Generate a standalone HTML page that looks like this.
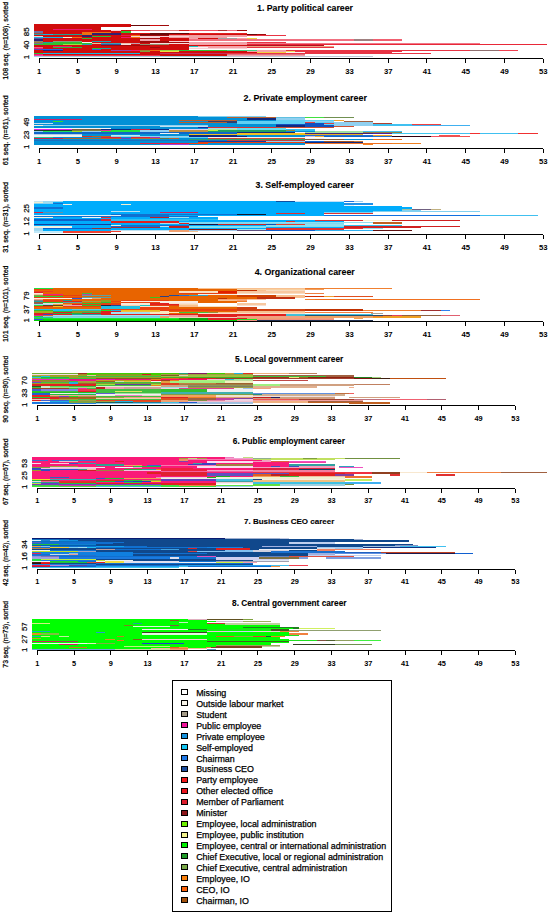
<!DOCTYPE html><html><head><meta charset="utf-8"><title>Career sequences</title><style>html,body{margin:0;padding:0;background:#fff;}svg{display:block;}text{font-family:"Liberation Sans",sans-serif;fill:#000;stroke:#000;stroke-width:0.25px;}</style></head><body>
<svg width="550" height="914" viewBox="0 0 550 914" shape-rendering="crispEdges">
<g>
<rect x="33.6" y="24.3" width="96.94" height="1.01" fill="#d00c0c"/>
<rect x="33.6" y="25.31" width="96.94" height="1.01" fill="#d00c0c"/>
<rect x="130.54" y="25.31" width="19.39" height="1.01" fill="#6a0808"/>
<rect x="149.93" y="25.31" width="9.69" height="1.01" fill="#d00c0c"/>
<rect x="159.62" y="25.31" width="9.69" height="1.01" fill="#a00a0a"/>
<rect x="33.6" y="26.32" width="96.94" height="1.01" fill="#d00c0c"/>
<rect x="33.6" y="27.34" width="67.86" height="1.01" fill="#d00c0c"/>
<rect x="33.6" y="28.35" width="67.86" height="1.01" fill="#d00c0c"/>
<rect x="33.6" y="29.36" width="19.39" height="1.01" fill="#d00c0c"/>
<rect x="52.99" y="29.36" width="38.78" height="1.01" fill="#f0186e"/>
<rect x="91.77" y="29.36" width="9.69" height="1.01" fill="#d00c0c"/>
<rect x="33.6" y="30.38" width="77.55" height="1.01" fill="#d00c0c"/>
<rect x="111.15" y="30.38" width="9.69" height="1.01" fill="#f8d0d4"/>
<rect x="120.85" y="30.38" width="9.69" height="1.01" fill="#d00c0c"/>
<rect x="130.54" y="30.38" width="19.39" height="1.01" fill="#f04050"/>
<rect x="149.93" y="30.38" width="29.08" height="1.01" fill="#e08080"/>
<rect x="179.01" y="30.38" width="9.69" height="1.01" fill="#d02020"/>
<rect x="188.71" y="30.38" width="29.08" height="1.01" fill="#f05060"/>
<rect x="217.79" y="30.38" width="9.69" height="1.01" fill="#b03030"/>
<rect x="227.48" y="30.38" width="9.69" height="1.01" fill="#f07080"/>
<rect x="237.18" y="30.38" width="9.69" height="1.01" fill="#a00a0a"/>
<rect x="33.6" y="31.39" width="9.69" height="1.01" fill="#7070a0"/>
<rect x="43.29" y="31.39" width="77.55" height="1.01" fill="#d00c0c"/>
<rect x="120.85" y="31.39" width="9.69" height="1.01" fill="#30c030"/>
<rect x="33.6" y="32.4" width="9.69" height="1.01" fill="#7070a0"/>
<rect x="43.29" y="32.4" width="38.78" height="1.01" fill="#d00c0c"/>
<rect x="82.07" y="32.4" width="29.08" height="1.01" fill="#f07010"/>
<rect x="111.15" y="32.4" width="9.69" height="1.01" fill="#d00c0c"/>
<rect x="120.85" y="32.4" width="9.69" height="1.01" fill="#30c030"/>
<rect x="33.6" y="33.41" width="9.69" height="1.01" fill="#a05040"/>
<rect x="43.29" y="33.41" width="38.78" height="1.01" fill="#d00c0c"/>
<rect x="82.07" y="33.41" width="9.69" height="1.01" fill="#f07010"/>
<rect x="91.77" y="33.41" width="29.08" height="1.01" fill="#302070"/>
<rect x="120.85" y="33.41" width="29.08" height="1.01" fill="#d00c0c"/>
<rect x="149.93" y="33.41" width="38.78" height="1.01" fill="#6a0808"/>
<rect x="188.71" y="33.41" width="58.17" height="1.01" fill="#e02020"/>
<rect x="33.6" y="34.42" width="9.69" height="1.01" fill="#20a0b0"/>
<rect x="43.29" y="34.42" width="9.69" height="1.01" fill="#18b8e0"/>
<rect x="52.99" y="34.42" width="29.08" height="1.01" fill="#20a090"/>
<rect x="82.07" y="34.42" width="9.69" height="1.01" fill="#f07010"/>
<rect x="91.77" y="34.42" width="29.08" height="1.01" fill="#302070"/>
<rect x="120.85" y="34.42" width="19.39" height="1.01" fill="#d00c0c"/>
<rect x="140.24" y="34.42" width="29.08" height="1.01" fill="#6a0808"/>
<rect x="169.32" y="34.42" width="77.55" height="1.01" fill="#d00c0c"/>
<rect x="246.87" y="34.42" width="9.69" height="1.01" fill="#6a0808"/>
<rect x="256.57" y="34.42" width="9.69" height="1.01" fill="#a00a0a"/>
<rect x="33.6" y="35.44" width="48.47" height="1.01" fill="#d00c0c"/>
<rect x="82.07" y="35.44" width="9.69" height="1.01" fill="#302070"/>
<rect x="91.77" y="35.44" width="29.08" height="1.01" fill="#d00c0c"/>
<rect x="120.85" y="35.44" width="9.69" height="1.01" fill="#f01050"/>
<rect x="130.54" y="35.44" width="9.69" height="1.01" fill="#f07010"/>
<rect x="140.24" y="35.44" width="29.08" height="1.01" fill="#a00a0a"/>
<rect x="169.32" y="35.44" width="77.55" height="1.01" fill="#f0a0a0"/>
<rect x="246.87" y="35.44" width="38.78" height="1.01" fill="#e83444"/>
<rect x="33.6" y="36.45" width="9.69" height="1.01" fill="#f8d0d4"/>
<rect x="43.29" y="36.45" width="38.78" height="1.01" fill="#d00c0c"/>
<rect x="82.07" y="36.45" width="9.69" height="1.01" fill="#302070"/>
<rect x="91.77" y="36.45" width="19.39" height="1.01" fill="#30c030"/>
<rect x="111.15" y="36.45" width="19.39" height="1.01" fill="#d00c0c"/>
<rect x="130.54" y="36.45" width="58.17" height="1.01" fill="#f8d0d4"/>
<rect x="188.71" y="36.45" width="58.17" height="1.01" fill="#f4a0a8"/>
<rect x="33.6" y="37.46" width="29.08" height="1.01" fill="#18b8e0"/>
<rect x="62.68" y="37.46" width="9.69" height="1.01" fill="#f8f0d0"/>
<rect x="72.38" y="37.46" width="9.69" height="1.01" fill="#f07010"/>
<rect x="82.07" y="37.46" width="38.78" height="1.01" fill="#d00c0c"/>
<rect x="120.85" y="37.46" width="9.69" height="1.01" fill="#f0186e"/>
<rect x="130.54" y="37.46" width="9.69" height="1.01" fill="#f07010"/>
<rect x="140.24" y="37.46" width="19.39" height="1.01" fill="#f8d0d4"/>
<rect x="159.62" y="37.46" width="9.69" height="1.01" fill="#d00c0c"/>
<rect x="169.32" y="37.46" width="58.17" height="1.01" fill="#f0a0a0"/>
<rect x="33.6" y="38.48" width="9.69" height="1.01" fill="#6050a0"/>
<rect x="43.29" y="38.48" width="38.78" height="1.01" fill="#d00c0c"/>
<rect x="82.07" y="38.48" width="9.69" height="1.01" fill="#30c030"/>
<rect x="91.77" y="38.48" width="48.47" height="1.01" fill="#d00c0c"/>
<rect x="140.24" y="38.48" width="19.39" height="1.01" fill="#a00a0a"/>
<rect x="159.62" y="38.48" width="29.08" height="1.01" fill="#d00c0c"/>
<rect x="188.71" y="38.48" width="9.69" height="1.01" fill="#f4a0a8"/>
<rect x="198.4" y="38.48" width="19.39" height="1.01" fill="#d00c0c"/>
<rect x="217.79" y="38.48" width="19.39" height="1.01" fill="#a0a0a0"/>
<rect x="237.18" y="38.48" width="9.69" height="1.01" fill="#f4a0a8"/>
<rect x="246.87" y="38.48" width="9.69" height="1.01" fill="#e8d040"/>
<rect x="33.6" y="39.49" width="9.69" height="1.01" fill="#302070"/>
<rect x="43.29" y="39.49" width="96.94" height="1.01" fill="#d00c0c"/>
<rect x="140.24" y="39.49" width="19.39" height="1.01" fill="#f4a0a8"/>
<rect x="159.62" y="39.49" width="29.08" height="1.01" fill="#d00c0c"/>
<rect x="188.71" y="39.49" width="164.8" height="1.01" fill="#f07080"/>
<rect x="353.51" y="39.49" width="19.39" height="1.01" fill="#a08080"/>
<rect x="372.9" y="39.49" width="29.08" height="1.01" fill="#f06070"/>
<rect x="33.6" y="40.5" width="9.69" height="1.01" fill="#908070"/>
<rect x="43.29" y="40.5" width="9.69" height="1.01" fill="#d00c0c"/>
<rect x="52.99" y="40.5" width="29.08" height="1.01" fill="#80a080"/>
<rect x="82.07" y="40.5" width="9.69" height="1.01" fill="#d00c0c"/>
<rect x="91.77" y="40.5" width="19.39" height="1.01" fill="#20a0b0"/>
<rect x="111.15" y="40.5" width="29.08" height="1.01" fill="#d00c0c"/>
<rect x="140.24" y="40.5" width="29.08" height="1.01" fill="#a00a0a"/>
<rect x="169.32" y="40.5" width="19.39" height="1.01" fill="#f8d0d4"/>
<rect x="33.6" y="41.51" width="9.69" height="1.01" fill="#a08030"/>
<rect x="43.29" y="41.51" width="9.69" height="1.01" fill="#20a0a0"/>
<rect x="52.99" y="41.51" width="29.08" height="1.01" fill="#30c030"/>
<rect x="82.07" y="41.51" width="9.69" height="1.01" fill="#f8f0f0"/>
<rect x="91.77" y="41.51" width="19.39" height="1.01" fill="#d00c0c"/>
<rect x="111.15" y="41.51" width="29.08" height="1.01" fill="#d00c0c"/>
<rect x="140.24" y="41.51" width="48.47" height="1.01" fill="#a00a0a"/>
<rect x="188.71" y="41.51" width="58.17" height="1.01" fill="#f4a0a8"/>
<rect x="246.87" y="41.51" width="38.78" height="1.01" fill="#e83444"/>
<rect x="33.6" y="42.52" width="9.69" height="1.01" fill="#7070a0"/>
<rect x="43.29" y="42.52" width="48.47" height="1.01" fill="#30c030"/>
<rect x="91.77" y="42.52" width="9.69" height="1.01" fill="#f0c0a0"/>
<rect x="101.46" y="42.52" width="19.39" height="1.01" fill="#40a0b0"/>
<rect x="120.85" y="42.52" width="9.69" height="1.01" fill="#f0c0b0"/>
<rect x="130.54" y="42.52" width="9.69" height="1.01" fill="#c0a0b0"/>
<rect x="140.24" y="42.52" width="9.69" height="1.01" fill="#d00c0c"/>
<rect x="149.93" y="42.52" width="38.78" height="1.01" fill="#f8e0e0"/>
<rect x="188.71" y="42.52" width="58.17" height="1.01" fill="#f4a0a8"/>
<rect x="246.87" y="42.52" width="232.66" height="1.01" fill="#f07888"/>
<rect x="33.6" y="43.54" width="29.08" height="1.01" fill="#30c030"/>
<rect x="62.68" y="43.54" width="19.39" height="1.01" fill="#a0e040"/>
<rect x="82.07" y="43.54" width="9.69" height="1.01" fill="#20a0b0"/>
<rect x="91.77" y="43.54" width="9.69" height="1.01" fill="#d00c0c"/>
<rect x="101.46" y="43.54" width="19.39" height="1.01" fill="#3050a0"/>
<rect x="120.85" y="43.54" width="9.69" height="1.01" fill="#f8e0e0"/>
<rect x="130.54" y="43.54" width="9.69" height="1.01" fill="#d00c0c"/>
<rect x="140.24" y="43.54" width="29.08" height="1.01" fill="#909070"/>
<rect x="169.32" y="43.54" width="19.39" height="1.01" fill="#d00c0c"/>
<rect x="188.71" y="43.54" width="58.17" height="1.01" fill="#f4a0a8"/>
<rect x="246.87" y="43.54" width="300.52" height="1.01" fill="#e82838"/>
<rect x="33.6" y="44.55" width="67.86" height="1.01" fill="#d00c0c"/>
<rect x="101.46" y="44.55" width="48.47" height="1.01" fill="#a00a0a"/>
<rect x="149.93" y="44.55" width="96.94" height="1.01" fill="#d00c0c"/>
<rect x="246.87" y="44.55" width="77.55" height="1.01" fill="#b01020"/>
<rect x="33.6" y="45.56" width="19.39" height="1.01" fill="#d00c0c"/>
<rect x="52.99" y="45.56" width="19.39" height="1.01" fill="#f0186e"/>
<rect x="72.38" y="45.56" width="116.33" height="1.01" fill="#d00c0c"/>
<rect x="188.71" y="45.56" width="9.69" height="1.01" fill="#20c0c0"/>
<rect x="198.4" y="45.56" width="48.47" height="1.01" fill="#f4a0a8"/>
<rect x="246.87" y="45.56" width="87.25" height="1.01" fill="#f0a080"/>
<rect x="33.6" y="46.58" width="9.69" height="1.01" fill="#f06080"/>
<rect x="43.29" y="46.58" width="9.69" height="1.01" fill="#d00c0c"/>
<rect x="52.99" y="46.58" width="29.08" height="1.01" fill="#30b040"/>
<rect x="82.07" y="46.58" width="67.86" height="1.01" fill="#d00c0c"/>
<rect x="149.93" y="46.58" width="9.69" height="1.01" fill="#a00a0a"/>
<rect x="159.62" y="46.58" width="29.08" height="1.01" fill="#d00c0c"/>
<rect x="188.71" y="46.58" width="19.39" height="1.01" fill="#f8f0f0"/>
<rect x="208.1" y="46.58" width="38.78" height="1.01" fill="#f4a0a8"/>
<rect x="246.87" y="46.58" width="87.25" height="1.01" fill="#e83444"/>
<rect x="33.6" y="47.59" width="9.69" height="1.01" fill="#f0186e"/>
<rect x="43.29" y="47.59" width="48.47" height="1.01" fill="#d00c0c"/>
<rect x="91.77" y="47.59" width="9.69" height="1.01" fill="#30c030"/>
<rect x="101.46" y="47.59" width="9.69" height="1.01" fill="#20a0a0"/>
<rect x="111.15" y="47.59" width="77.55" height="1.01" fill="#d00c0c"/>
<rect x="188.71" y="47.59" width="58.17" height="1.01" fill="#f8d0d4"/>
<rect x="33.6" y="48.6" width="9.69" height="1.01" fill="#6040b0"/>
<rect x="43.29" y="48.6" width="19.39" height="1.01" fill="#3060e0"/>
<rect x="62.68" y="48.6" width="29.08" height="1.01" fill="#d00c0c"/>
<rect x="91.77" y="48.6" width="9.69" height="1.01" fill="#3060e0"/>
<rect x="101.46" y="48.6" width="87.25" height="1.01" fill="#d00c0c"/>
<rect x="33.6" y="49.61" width="9.69" height="1.01" fill="#d00c0c"/>
<rect x="43.29" y="49.61" width="19.39" height="1.01" fill="#302070"/>
<rect x="62.68" y="49.61" width="48.47" height="1.01" fill="#d00c0c"/>
<rect x="111.15" y="49.61" width="19.39" height="1.01" fill="#a040a0"/>
<rect x="130.54" y="49.61" width="9.69" height="1.01" fill="#f0186e"/>
<rect x="140.24" y="49.61" width="9.69" height="1.01" fill="#a08030"/>
<rect x="149.93" y="49.61" width="9.69" height="1.01" fill="#f07010"/>
<rect x="159.62" y="49.61" width="19.39" height="1.01" fill="#a0d040"/>
<rect x="179.01" y="49.61" width="48.47" height="1.01" fill="#30c030"/>
<rect x="227.48" y="49.61" width="29.08" height="1.01" fill="#40d080"/>
<rect x="256.57" y="49.61" width="29.08" height="1.01" fill="#f4a0a8"/>
<rect x="285.65" y="49.61" width="184.19" height="1.01" fill="#e83444"/>
<rect x="469.84" y="49.61" width="29.08" height="1.01" fill="#907070"/>
<rect x="498.92" y="49.61" width="19.39" height="1.01" fill="#f04050"/>
<rect x="33.6" y="50.62" width="106.64" height="1.01" fill="#d00c0c"/>
<rect x="140.24" y="50.62" width="9.69" height="1.01" fill="#80a040"/>
<rect x="149.93" y="50.62" width="9.69" height="1.01" fill="#d00c0c"/>
<rect x="159.62" y="50.62" width="19.39" height="1.01" fill="#f0e040"/>
<rect x="179.01" y="50.62" width="67.86" height="1.01" fill="#d00c0c"/>
<rect x="246.87" y="50.62" width="38.78" height="1.01" fill="#f4a0a8"/>
<rect x="285.65" y="50.62" width="9.69" height="1.01" fill="#f0e060"/>
<rect x="295.34" y="50.62" width="106.64" height="1.01" fill="#e83444"/>
<rect x="33.6" y="51.64" width="222.97" height="1.01" fill="#d00c0c"/>
<rect x="256.57" y="51.64" width="29.08" height="1.01" fill="#f0d040"/>
<rect x="285.65" y="51.64" width="19.39" height="1.01" fill="#f8f0f0"/>
<rect x="305.04" y="51.64" width="87.25" height="1.01" fill="#e83444"/>
<rect x="33.6" y="52.65" width="9.69" height="1.01" fill="#30c030"/>
<rect x="43.29" y="52.65" width="96.94" height="1.01" fill="#18b8e0"/>
<rect x="140.24" y="52.65" width="19.39" height="1.01" fill="#d00c0c"/>
<rect x="159.62" y="52.65" width="67.86" height="1.01" fill="#c03060"/>
<rect x="227.48" y="52.65" width="203.58" height="1.01" fill="#e83444"/>
<rect x="33.6" y="53.66" width="9.69" height="1.01" fill="#f0186e"/>
<rect x="43.29" y="53.66" width="96.94" height="1.01" fill="#d00c0c"/>
<rect x="140.24" y="53.66" width="87.25" height="1.01" fill="#d00c0c"/>
<rect x="227.48" y="53.66" width="77.55" height="1.01" fill="#e07080"/>
<rect x="33.6" y="54.67" width="9.69" height="1.01" fill="#f040a0"/>
<rect x="43.29" y="54.67" width="116.33" height="1.01" fill="#f03050"/>
<rect x="159.62" y="54.67" width="67.86" height="1.01" fill="#d00c0c"/>
<rect x="227.48" y="54.67" width="77.55" height="1.01" fill="#f0a0a8"/>
<rect x="33.6" y="55.69" width="193.88" height="1.01" fill="#a0d0e0"/>
<rect x="227.48" y="55.69" width="145.41" height="1.01" fill="#c0c8d8"/>
</g>
<path d="M39.2 58.5H543.3" stroke="#000" stroke-width="1" fill="none"/>
<path d="M39.2 58.5v4M77.98 58.5v4M116.75 58.5v4M155.53 58.5v4M194.31 58.5v4M233.08 58.5v4M271.86 58.5v4M310.64 58.5v4M349.42 58.5v4M388.19 58.5v4M426.97 58.5v4M465.75 58.5v4M504.52 58.5v4M543.3 58.5v4" stroke="#000" stroke-width="1" fill="none"/>
<text x="39.2" y="73.6" font-size="7.7" font-weight="bold" style="stroke-width:0" text-anchor="middle">1</text>
<text x="77.98" y="73.6" font-size="7.7" font-weight="bold" style="stroke-width:0" text-anchor="middle">5</text>
<text x="116.75" y="73.6" font-size="7.7" font-weight="bold" style="stroke-width:0" text-anchor="middle">9</text>
<text x="155.53" y="73.6" font-size="7.7" font-weight="bold" style="stroke-width:0" text-anchor="middle">13</text>
<text x="194.31" y="73.6" font-size="7.7" font-weight="bold" style="stroke-width:0" text-anchor="middle">17</text>
<text x="233.08" y="73.6" font-size="7.7" font-weight="bold" style="stroke-width:0" text-anchor="middle">21</text>
<text x="271.86" y="73.6" font-size="7.7" font-weight="bold" style="stroke-width:0" text-anchor="middle">25</text>
<text x="310.64" y="73.6" font-size="7.7" font-weight="bold" style="stroke-width:0" text-anchor="middle">29</text>
<text x="349.42" y="73.6" font-size="7.7" font-weight="bold" style="stroke-width:0" text-anchor="middle">33</text>
<text x="388.19" y="73.6" font-size="7.7" font-weight="bold" style="stroke-width:0" text-anchor="middle">37</text>
<text x="426.97" y="73.6" font-size="7.7" font-weight="bold" style="stroke-width:0" text-anchor="middle">41</text>
<text x="465.75" y="73.6" font-size="7.7" font-weight="bold" style="stroke-width:0" text-anchor="middle">45</text>
<text x="504.52" y="73.6" font-size="7.7" font-weight="bold" style="stroke-width:0" text-anchor="middle">49</text>
<text x="543.3" y="73.6" font-size="7.7" font-weight="bold" style="stroke-width:0" text-anchor="middle">53</text>
<text x="305" y="11.1" font-size="8.77" font-weight="bold" style="stroke-width:0.1px" text-anchor="middle">1. Party political career</text>
<text transform="translate(8.2 40.8) rotate(-90)" font-size="8" text-anchor="middle" textLength="78" lengthAdjust="spacingAndGlyphs">108 seq. (n=108), sorted</text>
<text transform="translate(28.7 57) rotate(-90)" font-size="7.9" style="stroke-width:0.2px" text-anchor="middle">1</text>
<text transform="translate(28.7 44.9) rotate(-90)" font-size="7.9" style="stroke-width:0.2px" text-anchor="middle">40</text>
<text transform="translate(28.7 31.8) rotate(-90)" font-size="7.9" style="stroke-width:0.2px" text-anchor="middle">85</text>
<g>
<rect x="33.6" y="115.6" width="164.8" height="1" fill="#0290d6"/>
<rect x="198.4" y="115.6" width="67.86" height="1" fill="#80d0f0"/>
<rect x="33.6" y="116.6" width="193.88" height="1" fill="#0290d6"/>
<rect x="227.48" y="116.6" width="48.47" height="1" fill="#b86030"/>
<rect x="275.96" y="116.6" width="29.08" height="1" fill="#60c0e0"/>
<rect x="305.04" y="116.6" width="19.39" height="1" fill="#40e040"/>
<rect x="324.43" y="116.6" width="29.08" height="1" fill="#709050"/>
<rect x="33.6" y="117.6" width="213.27" height="1" fill="#0290d6"/>
<rect x="246.87" y="117.6" width="29.08" height="1" fill="#102a80"/>
<rect x="275.96" y="117.6" width="29.08" height="1" fill="#90d0f0"/>
<rect x="33.6" y="118.6" width="48.47" height="1" fill="#d0206a"/>
<rect x="82.07" y="118.6" width="164.8" height="1" fill="#0290d6"/>
<rect x="246.87" y="118.6" width="29.08" height="1" fill="#102a80"/>
<rect x="275.96" y="118.6" width="29.08" height="1" fill="#90d0f0"/>
<rect x="33.6" y="119.6" width="145.41" height="1" fill="#0290d6"/>
<rect x="179.01" y="119.6" width="58.17" height="1" fill="#b86030"/>
<rect x="237.18" y="119.6" width="38.78" height="1" fill="#0290d6"/>
<rect x="275.96" y="119.6" width="58.17" height="1" fill="#60d0f4"/>
<rect x="334.12" y="119.6" width="9.69" height="1" fill="#f0a030"/>
<rect x="33.6" y="120.6" width="19.39" height="1" fill="#0290d6"/>
<rect x="52.99" y="120.6" width="9.69" height="1" fill="#30e030"/>
<rect x="62.68" y="120.6" width="145.41" height="1" fill="#0290d6"/>
<rect x="208.1" y="120.6" width="29.08" height="1" fill="#304070"/>
<rect x="237.18" y="120.6" width="67.86" height="1" fill="#60d0f4"/>
<rect x="305.04" y="120.6" width="29.08" height="1" fill="#90d0f0"/>
<rect x="343.82" y="120.6" width="29.08" height="1" fill="#a06040"/>
<rect x="33.6" y="121.6" width="145.41" height="1" fill="#0290d6"/>
<rect x="179.01" y="121.6" width="48.47" height="1" fill="#b86030"/>
<rect x="227.48" y="121.6" width="9.69" height="1" fill="#304070"/>
<rect x="237.18" y="121.6" width="67.86" height="1" fill="#60d0f4"/>
<rect x="305.04" y="121.6" width="9.69" height="1" fill="#e04040"/>
<rect x="314.73" y="121.6" width="19.39" height="1" fill="#60d0f4"/>
<rect x="334.12" y="121.6" width="38.78" height="1" fill="#90d0f0"/>
<rect x="33.6" y="122.6" width="19.39" height="1" fill="#c0e0f0"/>
<rect x="52.99" y="122.6" width="155.11" height="1" fill="#0290d6"/>
<rect x="208.1" y="122.6" width="29.08" height="1" fill="#0290d6"/>
<rect x="237.18" y="122.6" width="67.86" height="1" fill="#60d0f4"/>
<rect x="305.04" y="122.6" width="19.39" height="1" fill="#1050c0"/>
<rect x="324.43" y="122.6" width="9.69" height="1" fill="#e04040"/>
<rect x="334.12" y="122.6" width="38.78" height="1" fill="#90d0f0"/>
<rect x="372.9" y="122.6" width="19.39" height="1" fill="#b04030"/>
<rect x="33.6" y="123.6" width="242.36" height="1" fill="#0290d6"/>
<rect x="275.96" y="123.6" width="48.47" height="1" fill="#1050c0"/>
<rect x="324.43" y="123.6" width="9.69" height="1" fill="#60d0f4"/>
<rect x="334.12" y="123.6" width="38.78" height="1" fill="#90d0f0"/>
<rect x="372.9" y="123.6" width="38.78" height="1" fill="#40c0f0"/>
<rect x="411.68" y="123.6" width="29.08" height="1" fill="#f04040"/>
<rect x="33.6" y="124.6" width="9.69" height="1" fill="#f8f0e0"/>
<rect x="43.29" y="124.6" width="164.8" height="1" fill="#90d0f0"/>
<rect x="208.1" y="124.6" width="67.86" height="1" fill="#0290d6"/>
<rect x="275.96" y="124.6" width="29.08" height="1" fill="#102a80"/>
<rect x="305.04" y="124.6" width="29.08" height="1" fill="#1050c0"/>
<rect x="334.12" y="124.6" width="38.78" height="1" fill="#90d0f0"/>
<rect x="372.9" y="124.6" width="38.78" height="1" fill="#40c0f0"/>
<rect x="411.68" y="124.6" width="58.17" height="1" fill="#40b0f0"/>
<rect x="33.6" y="125.6" width="126.03" height="1" fill="#0290d6"/>
<rect x="159.62" y="125.6" width="48.47" height="1" fill="#c0e0f0"/>
<rect x="208.1" y="125.6" width="67.86" height="1" fill="#0290d6"/>
<rect x="275.96" y="125.6" width="29.08" height="1" fill="#102a80"/>
<rect x="305.04" y="125.6" width="29.08" height="1" fill="#1050c0"/>
<rect x="334.12" y="125.6" width="19.39" height="1" fill="#d05030"/>
<rect x="33.6" y="126.6" width="164.8" height="1" fill="#0290d6"/>
<rect x="198.4" y="126.6" width="9.69" height="1" fill="#1030a0"/>
<rect x="208.1" y="126.6" width="67.86" height="1" fill="#e03030"/>
<rect x="275.96" y="126.6" width="58.17" height="1" fill="#d05030"/>
<rect x="33.6" y="127.6" width="77.55" height="1" fill="#f4f4f4"/>
<rect x="111.15" y="127.6" width="96.94" height="1" fill="#0290d6"/>
<rect x="208.1" y="127.6" width="29.08" height="1" fill="#a0d8f0"/>
<rect x="237.18" y="127.6" width="48.47" height="1" fill="#60e0f0"/>
<rect x="33.6" y="128.6" width="38.78" height="1" fill="#e020e0"/>
<rect x="72.38" y="128.6" width="29.08" height="1" fill="#806040"/>
<rect x="101.46" y="128.6" width="29.08" height="1" fill="#102a80"/>
<rect x="130.54" y="128.6" width="19.39" height="1" fill="#d02040"/>
<rect x="149.93" y="128.6" width="19.39" height="1" fill="#102a80"/>
<rect x="169.32" y="128.6" width="38.78" height="1" fill="#e0d0f0"/>
<rect x="208.1" y="128.6" width="29.08" height="1" fill="#a0f0a0"/>
<rect x="237.18" y="128.6" width="48.47" height="1" fill="#60e0f0"/>
<rect x="285.65" y="128.6" width="29.08" height="1" fill="#30c0f0"/>
<rect x="33.6" y="129.6" width="38.78" height="1" fill="#204020"/>
<rect x="72.38" y="129.6" width="29.08" height="1" fill="#808040"/>
<rect x="101.46" y="129.6" width="9.69" height="1" fill="#e03090"/>
<rect x="111.15" y="129.6" width="29.08" height="1" fill="#20e040"/>
<rect x="140.24" y="129.6" width="29.08" height="1" fill="#90d0f0"/>
<rect x="169.32" y="129.6" width="38.78" height="1" fill="#c09040"/>
<rect x="208.1" y="129.6" width="9.69" height="1" fill="#c0f040"/>
<rect x="217.79" y="129.6" width="67.86" height="1" fill="#20a060"/>
<rect x="285.65" y="129.6" width="9.69" height="1" fill="#909040"/>
<rect x="295.34" y="129.6" width="19.39" height="1" fill="#30c0f0"/>
<rect x="33.6" y="130.6" width="9.69" height="1" fill="#90d0f0"/>
<rect x="43.29" y="130.6" width="29.08" height="1" fill="#20e060"/>
<rect x="72.38" y="130.6" width="9.69" height="1" fill="#a0e020"/>
<rect x="82.07" y="130.6" width="19.39" height="1" fill="#90d0f0"/>
<rect x="101.46" y="130.6" width="38.78" height="1" fill="#20e040"/>
<rect x="140.24" y="130.6" width="29.08" height="1" fill="#90d0f0"/>
<rect x="169.32" y="130.6" width="38.78" height="1" fill="#c09040"/>
<rect x="208.1" y="130.6" width="77.55" height="1" fill="#20a060"/>
<rect x="285.65" y="130.6" width="29.08" height="1" fill="#0290d6"/>
<rect x="314.73" y="130.6" width="48.47" height="1" fill="#a0e0a0"/>
<rect x="363.2" y="130.6" width="38.78" height="1" fill="#40c0f0"/>
<rect x="33.6" y="131.6" width="203.58" height="1" fill="#1066c8"/>
<rect x="237.18" y="131.6" width="58.17" height="1" fill="#102a80"/>
<rect x="295.34" y="131.6" width="9.69" height="1" fill="#f4f4f4"/>
<rect x="305.04" y="131.6" width="58.17" height="1" fill="#a0e0a0"/>
<rect x="363.2" y="131.6" width="38.78" height="1" fill="#908040"/>
<rect x="33.6" y="132.6" width="126.03" height="1" fill="#1066c8"/>
<rect x="159.62" y="132.6" width="19.39" height="1" fill="#f0f0f0"/>
<rect x="179.01" y="132.6" width="58.17" height="1" fill="#1066c8"/>
<rect x="237.18" y="132.6" width="67.86" height="1" fill="#f0c020"/>
<rect x="305.04" y="132.6" width="67.86" height="1" fill="#402080"/>
<rect x="372.9" y="132.6" width="19.39" height="1" fill="#5020a0"/>
<rect x="392.29" y="132.6" width="48.47" height="1" fill="#40c8f0"/>
<rect x="440.76" y="132.6" width="29.08" height="1" fill="#40c0f0"/>
<rect x="469.84" y="132.6" width="9.69" height="1" fill="#f03030"/>
<rect x="479.53" y="132.6" width="38.78" height="1" fill="#40c0f0"/>
<rect x="518.31" y="132.6" width="19.39" height="1" fill="#f03030"/>
<rect x="33.6" y="133.6" width="48.47" height="1" fill="#b0d0e8"/>
<rect x="82.07" y="133.6" width="106.64" height="1" fill="#0290d6"/>
<rect x="188.71" y="133.6" width="116.33" height="1" fill="#f0c020"/>
<rect x="305.04" y="133.6" width="58.17" height="1" fill="#f0b020"/>
<rect x="33.6" y="134.6" width="48.47" height="1" fill="#f4f4f4"/>
<rect x="82.07" y="134.6" width="29.08" height="1" fill="#0290d6"/>
<rect x="111.15" y="134.6" width="29.08" height="1" fill="#c0f0f0"/>
<rect x="140.24" y="134.6" width="48.47" height="1" fill="#0290d6"/>
<rect x="188.71" y="134.6" width="48.47" height="1" fill="#102a80"/>
<rect x="237.18" y="134.6" width="67.86" height="1" fill="#0290d6"/>
<rect x="305.04" y="134.6" width="67.86" height="1" fill="#2070d0"/>
<rect x="372.9" y="134.6" width="19.39" height="1" fill="#f0a020"/>
<rect x="439.3" y="134.6" width="20.84" height="1" fill="#f05050"/>
<rect x="33.6" y="135.6" width="48.47" height="1" fill="#f4f4f4"/>
<rect x="82.07" y="135.6" width="9.69" height="1" fill="#e03020"/>
<rect x="91.77" y="135.6" width="19.39" height="1" fill="#c06020"/>
<rect x="111.15" y="135.6" width="77.55" height="1" fill="#90d0f0"/>
<rect x="188.71" y="135.6" width="58.17" height="1" fill="#102a80"/>
<rect x="246.87" y="135.6" width="58.17" height="1" fill="#0290d6"/>
<rect x="305.04" y="135.6" width="9.69" height="1" fill="#d0c0e0"/>
<rect x="314.73" y="135.6" width="9.69" height="1" fill="#f0b040"/>
<rect x="324.43" y="135.6" width="48.47" height="1" fill="#1066c8"/>
<rect x="372.9" y="135.6" width="19.39" height="1" fill="#2070d0"/>
<rect x="392.29" y="135.6" width="38.78" height="1" fill="#300010"/>
<rect x="431.06" y="135.6" width="9.69" height="1" fill="#f05060"/>
<rect x="440.76" y="135.6" width="29.08" height="1" fill="#f05050"/>
<rect x="33.6" y="136.6" width="19.39" height="1" fill="#20c0a0"/>
<rect x="52.99" y="136.6" width="48.47" height="1" fill="#0290d6"/>
<rect x="101.46" y="136.6" width="19.39" height="1" fill="#e02040"/>
<rect x="120.85" y="136.6" width="9.69" height="1" fill="#0290d6"/>
<rect x="130.54" y="136.6" width="19.39" height="1" fill="#e02040"/>
<rect x="149.93" y="136.6" width="9.69" height="1" fill="#a030c0"/>
<rect x="159.62" y="136.6" width="48.47" height="1" fill="#60d0f4"/>
<rect x="208.1" y="136.6" width="96.94" height="1" fill="#f4f4f4"/>
<rect x="33.6" y="137.6" width="29.08" height="1" fill="#d02040"/>
<rect x="62.68" y="137.6" width="58.17" height="1" fill="#b06030"/>
<rect x="120.85" y="137.6" width="9.69" height="1" fill="#7040c0"/>
<rect x="130.54" y="137.6" width="29.08" height="1" fill="#b07030"/>
<rect x="159.62" y="137.6" width="9.69" height="1" fill="#707040"/>
<rect x="169.32" y="137.6" width="9.69" height="1" fill="#b86030"/>
<rect x="179.01" y="137.6" width="29.08" height="1" fill="#0290d6"/>
<rect x="208.1" y="137.6" width="29.08" height="1" fill="#d04030"/>
<rect x="237.18" y="137.6" width="67.86" height="1" fill="#d05030"/>
<rect x="305.04" y="137.6" width="19.39" height="1" fill="#f4f4f4"/>
<rect x="33.6" y="138.6" width="155.11" height="1" fill="#0290d6"/>
<rect x="188.71" y="138.6" width="116.33" height="1" fill="#30a070"/>
<rect x="305.04" y="138.6" width="38.78" height="1" fill="#806040"/>
<rect x="343.82" y="138.6" width="29.08" height="1" fill="#0290d6"/>
<rect x="372.9" y="138.6" width="29.08" height="1" fill="#f07020"/>
<rect x="33.6" y="139.6" width="193.88" height="1" fill="#1a70c0"/>
<rect x="227.48" y="139.6" width="77.55" height="1" fill="#c04040"/>
<rect x="33.6" y="140.6" width="164.8" height="1" fill="#0290d6"/>
<rect x="198.4" y="140.6" width="67.86" height="1" fill="#1040a0"/>
<rect x="266.26" y="140.6" width="38.78" height="1" fill="#90d0f0"/>
<rect x="305.04" y="140.6" width="19.39" height="1" fill="#1060d0"/>
<rect x="324.43" y="140.6" width="29.08" height="1" fill="#a05020"/>
<rect x="353.51" y="140.6" width="9.69" height="1" fill="#c07030"/>
<rect x="33.6" y="141.6" width="164.8" height="1" fill="#0290d6"/>
<rect x="198.4" y="141.6" width="38.78" height="1" fill="#e04010"/>
<rect x="237.18" y="141.6" width="67.86" height="1" fill="#f04010"/>
<rect x="305.04" y="141.6" width="58.17" height="1" fill="#102a80"/>
<rect x="33.6" y="142.6" width="106.64" height="1" fill="#0290d6"/>
<rect x="140.24" y="142.6" width="48.47" height="1" fill="#e02040"/>
<rect x="188.71" y="142.6" width="19.39" height="1" fill="#f04010"/>
<rect x="208.1" y="142.6" width="96.94" height="1" fill="#0290d6"/>
<rect x="305.04" y="142.6" width="87.25" height="1" fill="#f07020"/>
<rect x="392.29" y="142.6" width="29.08" height="1" fill="#f08020"/>
<rect x="33.6" y="143.6" width="126.03" height="1" fill="#0290d6"/>
<rect x="159.62" y="143.6" width="29.08" height="1" fill="#a040e0"/>
<rect x="188.71" y="143.6" width="116.33" height="1" fill="#0290d6"/>
<rect x="363.2" y="143.6" width="9.69" height="1" fill="#f08020"/>
</g>
<path d="M39.2 148.5H543.3" stroke="#000" stroke-width="1" fill="none"/>
<path d="M39.2 148.5v4M77.98 148.5v4M116.75 148.5v4M155.53 148.5v4M194.31 148.5v4M233.08 148.5v4M271.86 148.5v4M310.64 148.5v4M349.42 148.5v4M388.19 148.5v4M426.97 148.5v4M465.75 148.5v4M504.52 148.5v4M543.3 148.5v4" stroke="#000" stroke-width="1" fill="none"/>
<text x="39.2" y="163.8" font-size="7.7" font-weight="bold" style="stroke-width:0" text-anchor="middle">1</text>
<text x="77.98" y="163.8" font-size="7.7" font-weight="bold" style="stroke-width:0" text-anchor="middle">5</text>
<text x="116.75" y="163.8" font-size="7.7" font-weight="bold" style="stroke-width:0" text-anchor="middle">9</text>
<text x="155.53" y="163.8" font-size="7.7" font-weight="bold" style="stroke-width:0" text-anchor="middle">13</text>
<text x="194.31" y="163.8" font-size="7.7" font-weight="bold" style="stroke-width:0" text-anchor="middle">17</text>
<text x="233.08" y="163.8" font-size="7.7" font-weight="bold" style="stroke-width:0" text-anchor="middle">21</text>
<text x="271.86" y="163.8" font-size="7.7" font-weight="bold" style="stroke-width:0" text-anchor="middle">25</text>
<text x="310.64" y="163.8" font-size="7.7" font-weight="bold" style="stroke-width:0" text-anchor="middle">29</text>
<text x="349.42" y="163.8" font-size="7.7" font-weight="bold" style="stroke-width:0" text-anchor="middle">33</text>
<text x="388.19" y="163.8" font-size="7.7" font-weight="bold" style="stroke-width:0" text-anchor="middle">37</text>
<text x="426.97" y="163.8" font-size="7.7" font-weight="bold" style="stroke-width:0" text-anchor="middle">41</text>
<text x="465.75" y="163.8" font-size="7.7" font-weight="bold" style="stroke-width:0" text-anchor="middle">45</text>
<text x="504.52" y="163.8" font-size="7.7" font-weight="bold" style="stroke-width:0" text-anchor="middle">49</text>
<text x="543.3" y="163.8" font-size="7.7" font-weight="bold" style="stroke-width:0" text-anchor="middle">53</text>
<text x="305.2" y="101.4" font-size="8.88" font-weight="bold" style="stroke-width:0.1px" text-anchor="middle">2. Private employment career</text>
<text transform="translate(8.2 130.2) rotate(-90)" font-size="8" text-anchor="middle" textLength="70" lengthAdjust="spacingAndGlyphs">61 seq. (n=61), sorted</text>
<text transform="translate(28.7 146.7) rotate(-90)" font-size="7.9" style="stroke-width:0.2px" text-anchor="middle">1</text>
<text transform="translate(28.7 134.9) rotate(-90)" font-size="7.9" style="stroke-width:0.2px" text-anchor="middle">23</text>
<text transform="translate(28.7 121.9) rotate(-90)" font-size="7.9" style="stroke-width:0.2px" text-anchor="middle">49</text>
<g>
<rect x="33.6" y="201.3" width="9.69" height="1.03" fill="#c8e4f0"/>
<rect x="43.29" y="201.3" width="19.39" height="1.03" fill="#a0d8f0"/>
<rect x="62.68" y="201.3" width="213.27" height="1.03" fill="#00acfc"/>
<rect x="275.96" y="201.3" width="19.39" height="1.03" fill="#1050a0"/>
<rect x="295.34" y="201.3" width="48.47" height="1.03" fill="#c0e0f8"/>
<rect x="343.82" y="201.3" width="9.69" height="1.03" fill="#1a70e0"/>
<rect x="353.51" y="201.3" width="9.69" height="1.03" fill="#a0d0f0"/>
<rect x="33.6" y="202.33" width="9.69" height="1.03" fill="#f0f0d0"/>
<rect x="43.29" y="202.33" width="9.69" height="1.03" fill="#a0e0f0"/>
<rect x="52.99" y="202.33" width="290.83" height="1.03" fill="#00acfc"/>
<rect x="33.6" y="203.36" width="19.39" height="1.03" fill="#90d0f0"/>
<rect x="52.99" y="203.36" width="9.69" height="1.03" fill="#1070d0"/>
<rect x="62.68" y="203.36" width="281.13" height="1.03" fill="#00acfc"/>
<rect x="343.82" y="203.36" width="29.08" height="1.03" fill="#2090e8"/>
<rect x="33.6" y="204.39" width="29.08" height="1.03" fill="#00acfc"/>
<rect x="62.68" y="204.39" width="9.69" height="1.03" fill="#f8f0e0"/>
<rect x="72.38" y="204.39" width="48.47" height="1.03" fill="#00acfc"/>
<rect x="120.85" y="204.39" width="9.69" height="1.03" fill="#f0f0d0"/>
<rect x="130.54" y="204.39" width="213.27" height="1.03" fill="#00acfc"/>
<rect x="343.82" y="204.39" width="29.08" height="1.03" fill="#2090e8"/>
<rect x="33.6" y="205.42" width="310.22" height="1.03" fill="#00acfc"/>
<rect x="343.82" y="205.42" width="9.69" height="1.03" fill="#e0f0f8"/>
<rect x="33.6" y="206.45" width="368.38" height="1.03" fill="#00acfc"/>
<rect x="33.6" y="207.48" width="29.08" height="1.03" fill="#1070d0"/>
<rect x="62.68" y="207.48" width="348.99" height="1.03" fill="#00acfc"/>
<rect x="33.6" y="208.51" width="368.38" height="1.03" fill="#00acfc"/>
<rect x="401.98" y="208.51" width="9.69" height="1.03" fill="#a0c0a0"/>
<rect x="411.68" y="208.51" width="19.39" height="1.03" fill="#706080"/>
<rect x="431.06" y="208.51" width="9.69" height="1.03" fill="#c0b080"/>
<rect x="33.6" y="209.54" width="368.38" height="1.03" fill="#00acfc"/>
<rect x="401.98" y="209.54" width="19.39" height="1.03" fill="#80d0f0"/>
<rect x="33.6" y="210.57" width="77.55" height="1.03" fill="#00acfc"/>
<rect x="111.15" y="210.57" width="29.08" height="1.03" fill="#c0e0f0"/>
<rect x="140.24" y="210.57" width="232.66" height="1.03" fill="#00acfc"/>
<rect x="372.9" y="210.57" width="106.64" height="1.03" fill="#80d0f0"/>
<rect x="33.6" y="211.6" width="9.69" height="1.03" fill="#e02040"/>
<rect x="43.29" y="211.6" width="19.39" height="1.03" fill="#6090b0"/>
<rect x="62.68" y="211.6" width="96.94" height="1.03" fill="#00acfc"/>
<rect x="159.62" y="211.6" width="38.78" height="1.03" fill="#d02060"/>
<rect x="198.4" y="211.6" width="126.03" height="1.03" fill="#00acfc"/>
<rect x="324.43" y="211.6" width="48.47" height="1.03" fill="#80d0f0"/>
<rect x="33.6" y="212.63" width="242.36" height="1.03" fill="#00acfc"/>
<rect x="275.96" y="212.63" width="29.08" height="1.03" fill="#e03030"/>
<rect x="305.04" y="212.63" width="19.39" height="1.03" fill="#00acfc"/>
<rect x="324.43" y="212.63" width="48.47" height="1.03" fill="#e03030"/>
<rect x="33.6" y="213.66" width="77.55" height="1.03" fill="#00acfc"/>
<rect x="111.15" y="213.66" width="126.02" height="1.03" fill="#1070d0"/>
<rect x="237.18" y="213.66" width="29.08" height="1.03" fill="#101830"/>
<rect x="266.26" y="213.66" width="58.17" height="1.03" fill="#00acfc"/>
<rect x="33.6" y="214.69" width="87.25" height="1.03" fill="#e8f0f6"/>
<rect x="120.85" y="214.69" width="48.47" height="1.03" fill="#1070d0"/>
<rect x="169.32" y="214.69" width="155.11" height="1.03" fill="#00acfc"/>
<rect x="324.43" y="214.69" width="155.11" height="1.03" fill="#1070e0"/>
<rect x="479.53" y="214.69" width="58.17" height="1.03" fill="#40c0f0"/>
<rect x="33.6" y="215.72" width="164.8" height="1.03" fill="#1070d0"/>
<rect x="33.6" y="216.75" width="19.39" height="1.03" fill="#f0f0e0"/>
<rect x="52.99" y="216.75" width="29.08" height="1.03" fill="#00acfc"/>
<rect x="82.07" y="216.75" width="19.39" height="1.03" fill="#f0f4f8"/>
<rect x="101.46" y="216.75" width="9.69" height="1.03" fill="#e03030"/>
<rect x="111.15" y="216.75" width="38.78" height="1.03" fill="#00acfc"/>
<rect x="149.93" y="216.75" width="19.39" height="1.03" fill="#c02020"/>
<rect x="169.32" y="216.75" width="19.39" height="1.03" fill="#a0e0f0"/>
<rect x="188.71" y="216.75" width="29.08" height="1.03" fill="#00acfc"/>
<rect x="33.6" y="217.78" width="184.19" height="1.03" fill="#00acfc"/>
<rect x="33.6" y="218.81" width="67.86" height="1.03" fill="#1060c8"/>
<rect x="101.46" y="218.81" width="9.69" height="1.03" fill="#e02030"/>
<rect x="111.15" y="218.81" width="106.64" height="1.03" fill="#30c0f0"/>
<rect x="33.6" y="219.84" width="67.86" height="1.03" fill="#1060c8"/>
<rect x="101.46" y="219.84" width="9.69" height="1.03" fill="#e02030"/>
<rect x="111.15" y="219.84" width="77.55" height="1.03" fill="#30c0f0"/>
<rect x="188.71" y="219.84" width="126.03" height="1.03" fill="#00acfc"/>
<rect x="314.73" y="219.84" width="48.47" height="1.03" fill="#e03030"/>
<rect x="363.2" y="219.84" width="29.08" height="1.03" fill="#f8f0d0"/>
<rect x="392.29" y="219.84" width="67.86" height="1.03" fill="#d02020"/>
<rect x="33.6" y="220.87" width="77.55" height="1.03" fill="#00acfc"/>
<rect x="111.15" y="220.87" width="67.86" height="1.03" fill="#e02020"/>
<rect x="179.01" y="220.87" width="106.64" height="1.03" fill="#00acfc"/>
<rect x="285.65" y="220.87" width="9.69" height="1.03" fill="#e03030"/>
<rect x="295.34" y="220.87" width="48.47" height="1.03" fill="#00acfc"/>
<rect x="33.6" y="221.9" width="77.55" height="1.03" fill="#00acfc"/>
<rect x="111.15" y="221.9" width="67.86" height="1.03" fill="#e02020"/>
<rect x="179.01" y="221.9" width="87.25" height="1.03" fill="#80d8f0"/>
<rect x="266.26" y="221.9" width="106.64" height="1.03" fill="#90e0f0"/>
<rect x="372.9" y="221.9" width="29.08" height="1.03" fill="#c06020"/>
<rect x="33.6" y="222.93" width="126.03" height="1.03" fill="#00acfc"/>
<rect x="159.62" y="222.93" width="19.39" height="1.03" fill="#a0e0f0"/>
<rect x="179.01" y="222.93" width="9.69" height="1.03" fill="#e02020"/>
<rect x="188.71" y="222.93" width="155.11" height="1.03" fill="#80d8f0"/>
<rect x="372.9" y="222.93" width="29.08" height="1.03" fill="#c06020"/>
<rect x="33.6" y="223.96" width="77.55" height="1.03" fill="#1040a0"/>
<rect x="111.15" y="223.96" width="77.55" height="1.03" fill="#00acfc"/>
<rect x="188.71" y="223.96" width="29.08" height="1.03" fill="#201040"/>
<rect x="217.79" y="223.96" width="48.47" height="1.03" fill="#d02020"/>
<rect x="266.26" y="223.96" width="9.69" height="1.03" fill="#1050b0"/>
<rect x="275.96" y="223.96" width="29.08" height="1.03" fill="#e04030"/>
<rect x="305.04" y="223.96" width="38.78" height="1.03" fill="#90e0f0"/>
<rect x="33.6" y="224.99" width="77.55" height="1.03" fill="#00acfc"/>
<rect x="111.15" y="224.99" width="9.69" height="1.03" fill="#f0f0e0"/>
<rect x="120.85" y="224.99" width="67.86" height="1.03" fill="#1070d0"/>
<rect x="188.71" y="224.99" width="77.55" height="1.03" fill="#00acfc"/>
<rect x="266.26" y="224.99" width="77.55" height="1.03" fill="#90e0f0"/>
<rect x="343.82" y="224.99" width="58.17" height="1.03" fill="#30c0f0"/>
<rect x="33.6" y="226.02" width="38.78" height="1.03" fill="#f0f0e0"/>
<rect x="72.38" y="226.02" width="38.78" height="1.03" fill="#00acfc"/>
<rect x="111.15" y="226.02" width="48.47" height="1.03" fill="#1070d0"/>
<rect x="159.62" y="226.02" width="9.69" height="1.03" fill="#c0e0f0"/>
<rect x="169.32" y="226.02" width="19.39" height="1.03" fill="#c02020"/>
<rect x="188.71" y="226.02" width="155.11" height="1.03" fill="#80e0f0"/>
<rect x="343.82" y="226.02" width="116.33" height="1.03" fill="#d02020"/>
<rect x="33.6" y="227.05" width="38.78" height="1.03" fill="#f0f0e0"/>
<rect x="72.38" y="227.05" width="38.78" height="1.03" fill="#00acfc"/>
<rect x="111.15" y="227.05" width="48.47" height="1.03" fill="#a03040"/>
<rect x="159.62" y="227.05" width="9.69" height="1.03" fill="#00acfc"/>
<rect x="169.32" y="227.05" width="19.39" height="1.03" fill="#c02020"/>
<rect x="188.71" y="227.05" width="77.55" height="1.03" fill="#80e0f0"/>
<rect x="266.26" y="227.05" width="77.55" height="1.03" fill="#00acfc"/>
<rect x="343.82" y="227.05" width="77.55" height="1.03" fill="#d02020"/>
<rect x="33.6" y="228.08" width="9.69" height="1.03" fill="#a0d8f0"/>
<rect x="43.29" y="228.08" width="48.47" height="1.03" fill="#1060d0"/>
<rect x="91.77" y="228.08" width="19.39" height="1.03" fill="#a03030"/>
<rect x="111.15" y="228.08" width="155.11" height="1.03" fill="#00acfc"/>
<rect x="266.26" y="228.08" width="96.94" height="1.03" fill="#e03030"/>
<rect x="363.2" y="228.08" width="19.39" height="1.03" fill="#90e0f0"/>
<rect x="33.6" y="229.11" width="9.69" height="1.03" fill="#a0d8f0"/>
<rect x="43.29" y="229.11" width="145.41" height="1.03" fill="#00acfc"/>
<rect x="188.71" y="229.11" width="48.47" height="1.03" fill="#801010"/>
<rect x="237.18" y="229.11" width="29.08" height="1.03" fill="#a0e0f0"/>
<rect x="266.26" y="229.11" width="77.55" height="1.03" fill="#e03030"/>
<rect x="33.6" y="230.14" width="9.69" height="1.03" fill="#a0d8f0"/>
<rect x="43.29" y="230.14" width="67.86" height="1.03" fill="#00acfc"/>
<rect x="111.15" y="230.14" width="58.17" height="1.03" fill="#c0e0f0"/>
<rect x="169.32" y="230.14" width="19.39" height="1.03" fill="#f0a070"/>
<rect x="188.71" y="230.14" width="48.47" height="1.03" fill="#a0c8e8"/>
<rect x="237.18" y="230.14" width="29.08" height="1.03" fill="#605080"/>
<rect x="266.26" y="230.14" width="48.47" height="1.03" fill="#1060d0"/>
<rect x="314.73" y="230.14" width="58.17" height="1.03" fill="#30b0f0"/>
<rect x="372.9" y="230.14" width="38.78" height="1.03" fill="#601010"/>
<rect x="33.6" y="231.17" width="29.08" height="1.03" fill="#c0e8f8"/>
<rect x="62.68" y="231.17" width="58.17" height="1.03" fill="#f04030"/>
<rect x="169.32" y="231.17" width="19.39" height="1.03" fill="#f0a070"/>
<rect x="188.71" y="231.17" width="9.69" height="1.03" fill="#f0c090"/>
<rect x="33.6" y="232.2" width="29.08" height="1.03" fill="#c0e8f8"/>
<rect x="62.68" y="232.2" width="48.47" height="1.03" fill="#f04030"/>
</g>
<path d="M39.2 234.5H543.3" stroke="#000" stroke-width="1" fill="none"/>
<path d="M39.2 234.5v4M77.98 234.5v4M116.75 234.5v4M155.53 234.5v4M194.31 234.5v4M233.08 234.5v4M271.86 234.5v4M310.64 234.5v4M349.42 234.5v4M388.19 234.5v4M426.97 234.5v4M465.75 234.5v4M504.52 234.5v4M543.3 234.5v4" stroke="#000" stroke-width="1" fill="none"/>
<text x="39.2" y="250.1" font-size="7.7" font-weight="bold" style="stroke-width:0" text-anchor="middle">1</text>
<text x="77.98" y="250.1" font-size="7.7" font-weight="bold" style="stroke-width:0" text-anchor="middle">5</text>
<text x="116.75" y="250.1" font-size="7.7" font-weight="bold" style="stroke-width:0" text-anchor="middle">9</text>
<text x="155.53" y="250.1" font-size="7.7" font-weight="bold" style="stroke-width:0" text-anchor="middle">13</text>
<text x="194.31" y="250.1" font-size="7.7" font-weight="bold" style="stroke-width:0" text-anchor="middle">17</text>
<text x="233.08" y="250.1" font-size="7.7" font-weight="bold" style="stroke-width:0" text-anchor="middle">21</text>
<text x="271.86" y="250.1" font-size="7.7" font-weight="bold" style="stroke-width:0" text-anchor="middle">25</text>
<text x="310.64" y="250.1" font-size="7.7" font-weight="bold" style="stroke-width:0" text-anchor="middle">29</text>
<text x="349.42" y="250.1" font-size="7.7" font-weight="bold" style="stroke-width:0" text-anchor="middle">33</text>
<text x="388.19" y="250.1" font-size="7.7" font-weight="bold" style="stroke-width:0" text-anchor="middle">37</text>
<text x="426.97" y="250.1" font-size="7.7" font-weight="bold" style="stroke-width:0" text-anchor="middle">41</text>
<text x="465.75" y="250.1" font-size="7.7" font-weight="bold" style="stroke-width:0" text-anchor="middle">45</text>
<text x="504.52" y="250.1" font-size="7.7" font-weight="bold" style="stroke-width:0" text-anchor="middle">49</text>
<text x="543.3" y="250.1" font-size="7.7" font-weight="bold" style="stroke-width:0" text-anchor="middle">53</text>
<text x="304.7" y="188" font-size="8.75" font-weight="bold" style="stroke-width:0.1px" text-anchor="middle">3. Self-employed career</text>
<text transform="translate(8.2 217.4) rotate(-90)" font-size="8" text-anchor="middle" textLength="70.7" lengthAdjust="spacingAndGlyphs">31 seq. (n=31), sorted</text>
<text transform="translate(28.7 233.5) rotate(-90)" font-size="7.9" style="stroke-width:0.2px" text-anchor="middle">1</text>
<text transform="translate(28.7 221.3) rotate(-90)" font-size="7.9" style="stroke-width:0.2px" text-anchor="middle">12</text>
<text transform="translate(28.7 208.4) rotate(-90)" font-size="7.9" style="stroke-width:0.2px" text-anchor="middle">25</text>
<g>
<rect x="33.6" y="288" width="19.39" height="1.02" fill="#20e040"/>
<rect x="52.99" y="288" width="145.41" height="1.02" fill="#e86400"/>
<rect x="198.4" y="288" width="106.64" height="1.02" fill="#f8c090"/>
<rect x="305.04" y="288" width="87.25" height="1.02" fill="#f08030"/>
<rect x="33.6" y="289.02" width="19.39" height="1.03" fill="#f04010"/>
<rect x="52.99" y="289.02" width="184.19" height="1.03" fill="#e86400"/>
<rect x="237.18" y="289.02" width="67.86" height="1.03" fill="#f8d0a0"/>
<rect x="305.04" y="289.02" width="19.39" height="1.03" fill="#f0a060"/>
<rect x="33.6" y="290.05" width="203.58" height="1.02" fill="#e86400"/>
<rect x="237.18" y="290.05" width="19.39" height="1.02" fill="#c03000"/>
<rect x="256.57" y="290.05" width="9.69" height="1.02" fill="#f8c090"/>
<rect x="266.26" y="290.05" width="38.78" height="1.02" fill="#f8dcc0"/>
<rect x="33.6" y="291.07" width="19.39" height="1.03" fill="#e84020"/>
<rect x="52.99" y="291.07" width="126.03" height="1.03" fill="#e86400"/>
<rect x="179.01" y="291.07" width="38.78" height="1.03" fill="#f8e0c0"/>
<rect x="217.79" y="291.07" width="19.39" height="1.03" fill="#e02000"/>
<rect x="237.18" y="291.07" width="67.86" height="1.03" fill="#f8c8a0"/>
<rect x="33.6" y="292.1" width="9.69" height="1.02" fill="#e02020"/>
<rect x="43.29" y="292.1" width="135.72" height="1.02" fill="#e86400"/>
<rect x="179.01" y="292.1" width="38.78" height="1.02" fill="#f8e0c0"/>
<rect x="217.79" y="292.1" width="19.39" height="1.02" fill="#e02000"/>
<rect x="237.18" y="292.1" width="67.86" height="1.02" fill="#f8c8a0"/>
<rect x="33.6" y="293.12" width="9.69" height="1.02" fill="#f8e8d0"/>
<rect x="43.29" y="293.12" width="38.78" height="1.02" fill="#e86400"/>
<rect x="82.07" y="293.12" width="9.69" height="1.02" fill="#40c040"/>
<rect x="91.77" y="293.12" width="87.25" height="1.02" fill="#e86400"/>
<rect x="179.01" y="293.12" width="58.17" height="1.02" fill="#e84010"/>
<rect x="237.18" y="293.12" width="67.86" height="1.02" fill="#f8dcc0"/>
<rect x="305.04" y="293.12" width="19.39" height="1.02" fill="#f08040"/>
<rect x="33.6" y="294.15" width="9.69" height="1.03" fill="#f0c0a0"/>
<rect x="43.29" y="294.15" width="19.39" height="1.03" fill="#f02080"/>
<rect x="62.68" y="294.15" width="19.39" height="1.03" fill="#e86400"/>
<rect x="82.07" y="294.15" width="9.69" height="1.03" fill="#c040a0"/>
<rect x="91.77" y="294.15" width="106.64" height="1.03" fill="#e86400"/>
<rect x="198.4" y="294.15" width="38.78" height="1.03" fill="#f8f0e8"/>
<rect x="33.6" y="295.18" width="9.69" height="1.02" fill="#80a040"/>
<rect x="43.29" y="295.18" width="38.78" height="1.02" fill="#e84010"/>
<rect x="82.07" y="295.18" width="29.08" height="1.02" fill="#60a0a0"/>
<rect x="111.15" y="295.18" width="58.17" height="1.02" fill="#e86400"/>
<rect x="169.32" y="295.18" width="9.69" height="1.02" fill="#2050a0"/>
<rect x="179.01" y="295.18" width="9.69" height="1.02" fill="#2070d0"/>
<rect x="188.71" y="295.18" width="19.39" height="1.02" fill="#30a0c0"/>
<rect x="208.1" y="295.18" width="29.08" height="1.02" fill="#e86400"/>
<rect x="237.18" y="295.18" width="38.78" height="1.02" fill="#d04000"/>
<rect x="275.96" y="295.18" width="29.08" height="1.02" fill="#f8c090"/>
<rect x="33.6" y="296.2" width="29.08" height="1.03" fill="#30d030"/>
<rect x="62.68" y="296.2" width="96.94" height="1.03" fill="#e86400"/>
<rect x="159.62" y="296.2" width="9.69" height="1.03" fill="#304080"/>
<rect x="169.32" y="296.2" width="67.86" height="1.03" fill="#e86400"/>
<rect x="237.18" y="296.2" width="38.78" height="1.03" fill="#d04000"/>
<rect x="275.96" y="296.2" width="29.08" height="1.03" fill="#f8c090"/>
<rect x="305.04" y="296.2" width="19.39" height="1.03" fill="#d03000"/>
<rect x="324.43" y="296.2" width="9.69" height="1.03" fill="#f0a030"/>
<rect x="334.12" y="296.2" width="38.78" height="1.03" fill="#e05020"/>
<rect x="33.6" y="297.23" width="48.47" height="1.02" fill="#e84010"/>
<rect x="82.07" y="297.23" width="29.08" height="1.02" fill="#60a0a0"/>
<rect x="111.15" y="297.23" width="38.78" height="1.02" fill="#e86400"/>
<rect x="149.93" y="297.23" width="9.69" height="1.02" fill="#40c020"/>
<rect x="159.62" y="297.23" width="96.94" height="1.02" fill="#e86400"/>
<rect x="256.57" y="297.23" width="38.78" height="1.02" fill="#c03010"/>
<rect x="295.34" y="297.23" width="9.69" height="1.02" fill="#f8c090"/>
<rect x="33.6" y="298.25" width="38.78" height="1.02" fill="#f8f0e0"/>
<rect x="72.38" y="298.25" width="9.69" height="1.02" fill="#3060d0"/>
<rect x="82.07" y="298.25" width="9.69" height="1.02" fill="#e0f0f8"/>
<rect x="91.77" y="298.25" width="9.69" height="1.02" fill="#f0a060"/>
<rect x="101.46" y="298.25" width="116.33" height="1.02" fill="#e86400"/>
<rect x="217.79" y="298.25" width="9.69" height="1.02" fill="#c03000"/>
<rect x="227.48" y="298.25" width="29.08" height="1.02" fill="#e86400"/>
<rect x="256.57" y="298.25" width="38.78" height="1.02" fill="#c03010"/>
<rect x="33.6" y="299.27" width="9.69" height="1.03" fill="#f0a080"/>
<rect x="43.29" y="299.27" width="174.5" height="1.03" fill="#e86400"/>
<rect x="217.79" y="299.27" width="29.08" height="1.03" fill="#f8a070"/>
<rect x="246.87" y="299.27" width="19.39" height="1.03" fill="#f8c0a0"/>
<rect x="305.04" y="299.27" width="9.69" height="1.03" fill="#f08030"/>
<rect x="314.73" y="299.27" width="164.8" height="1.03" fill="#f07020"/>
<rect x="33.6" y="300.3" width="9.69" height="1.02" fill="#808080"/>
<rect x="43.29" y="300.3" width="19.39" height="1.02" fill="#e84010"/>
<rect x="62.68" y="300.3" width="9.69" height="1.02" fill="#20a080"/>
<rect x="72.38" y="300.3" width="29.08" height="1.02" fill="#e86400"/>
<rect x="101.46" y="300.3" width="9.69" height="1.02" fill="#90a020"/>
<rect x="111.15" y="300.3" width="9.69" height="1.02" fill="#e86400"/>
<rect x="120.85" y="300.3" width="48.47" height="1.02" fill="#e84010"/>
<rect x="169.32" y="300.3" width="48.47" height="1.02" fill="#e86400"/>
<rect x="217.79" y="300.3" width="19.39" height="1.02" fill="#f8c090"/>
<rect x="237.18" y="300.3" width="9.69" height="1.02" fill="#f8a070"/>
<rect x="33.6" y="301.32" width="9.69" height="1.03" fill="#20a0a0"/>
<rect x="43.29" y="301.32" width="19.39" height="1.03" fill="#e84010"/>
<rect x="62.68" y="301.32" width="19.39" height="1.03" fill="#e02020"/>
<rect x="82.07" y="301.32" width="19.39" height="1.03" fill="#a0a040"/>
<rect x="101.46" y="301.32" width="9.69" height="1.03" fill="#90a020"/>
<rect x="111.15" y="301.32" width="9.69" height="1.03" fill="#e84010"/>
<rect x="120.85" y="301.32" width="77.55" height="1.03" fill="#f8f0e4"/>
<rect x="198.4" y="301.32" width="38.78" height="1.03" fill="#e86400"/>
<rect x="237.18" y="301.32" width="9.69" height="1.03" fill="#f08030"/>
<rect x="33.6" y="302.35" width="9.69" height="1.02" fill="#a06030"/>
<rect x="43.29" y="302.35" width="19.39" height="1.02" fill="#30c030"/>
<rect x="62.68" y="302.35" width="19.39" height="1.02" fill="#60a0a0"/>
<rect x="82.07" y="302.35" width="19.39" height="1.02" fill="#e86400"/>
<rect x="101.46" y="302.35" width="9.69" height="1.02" fill="#30c030"/>
<rect x="111.15" y="302.35" width="9.69" height="1.02" fill="#e86400"/>
<rect x="120.85" y="302.35" width="38.78" height="1.02" fill="#e84010"/>
<rect x="159.62" y="302.35" width="38.78" height="1.02" fill="#f8ece4"/>
<rect x="198.4" y="302.35" width="38.78" height="1.02" fill="#e86400"/>
<rect x="33.6" y="303.38" width="9.69" height="1.02" fill="#806070"/>
<rect x="43.29" y="303.38" width="19.39" height="1.02" fill="#e0e0e0"/>
<rect x="62.68" y="303.38" width="19.39" height="1.02" fill="#e86400"/>
<rect x="82.07" y="303.38" width="19.39" height="1.02" fill="#30c030"/>
<rect x="101.46" y="303.38" width="19.39" height="1.02" fill="#e84010"/>
<rect x="120.85" y="303.38" width="29.08" height="1.02" fill="#f8e8d8"/>
<rect x="149.93" y="303.38" width="19.39" height="1.02" fill="#e02020"/>
<rect x="169.32" y="303.38" width="29.08" height="1.02" fill="#f8e0d0"/>
<rect x="237.18" y="303.38" width="29.08" height="1.02" fill="#f8c8a0"/>
<rect x="33.6" y="304.4" width="19.39" height="1.03" fill="#a0e0f0"/>
<rect x="52.99" y="304.4" width="19.39" height="1.03" fill="#f0a040"/>
<rect x="72.38" y="304.4" width="9.69" height="1.03" fill="#e02020"/>
<rect x="82.07" y="304.4" width="38.78" height="1.03" fill="#e84010"/>
<rect x="120.85" y="304.4" width="29.08" height="1.03" fill="#f8e8d8"/>
<rect x="149.93" y="304.4" width="29.08" height="1.03" fill="#e02020"/>
<rect x="179.01" y="304.4" width="19.39" height="1.03" fill="#f8d8b0"/>
<rect x="237.18" y="304.4" width="29.08" height="1.03" fill="#f8c8a0"/>
<rect x="33.6" y="305.43" width="9.69" height="1.02" fill="#20e040"/>
<rect x="43.29" y="305.43" width="19.39" height="1.02" fill="#604020"/>
<rect x="62.68" y="305.43" width="19.39" height="1.02" fill="#f0a0b0"/>
<rect x="82.07" y="305.43" width="19.39" height="1.02" fill="#30c030"/>
<rect x="101.46" y="305.43" width="9.69" height="1.02" fill="#202040"/>
<rect x="111.15" y="305.43" width="9.69" height="1.02" fill="#2040a0"/>
<rect x="120.85" y="305.43" width="19.39" height="1.02" fill="#f0d0b0"/>
<rect x="140.24" y="305.43" width="9.69" height="1.02" fill="#20c0c0"/>
<rect x="149.93" y="305.43" width="29.08" height="1.02" fill="#e84010"/>
<rect x="179.01" y="305.43" width="19.39" height="1.02" fill="#f8c090"/>
<rect x="237.18" y="305.43" width="29.08" height="1.02" fill="#f8e0d0"/>
<rect x="33.6" y="306.45" width="19.39" height="1.03" fill="#e84010"/>
<rect x="52.99" y="306.45" width="9.69" height="1.03" fill="#f0c020"/>
<rect x="62.68" y="306.45" width="38.78" height="1.03" fill="#e84010"/>
<rect x="101.46" y="306.45" width="38.78" height="1.03" fill="#20c0e0"/>
<rect x="140.24" y="306.45" width="29.08" height="1.03" fill="#f8e0d0"/>
<rect x="169.32" y="306.45" width="9.69" height="1.03" fill="#e86400"/>
<rect x="179.01" y="306.45" width="19.39" height="1.03" fill="#f8c090"/>
<rect x="198.4" y="306.45" width="38.78" height="1.03" fill="#f8e0c0"/>
<rect x="33.6" y="307.48" width="67.86" height="1.02" fill="#e86400"/>
<rect x="101.46" y="307.48" width="38.78" height="1.02" fill="#20c0e0"/>
<rect x="140.24" y="307.48" width="29.08" height="1.02" fill="#e84010"/>
<rect x="169.32" y="307.48" width="67.86" height="1.02" fill="#e86400"/>
<rect x="237.18" y="307.48" width="19.39" height="1.02" fill="#d04010"/>
<rect x="33.6" y="308.5" width="38.78" height="1.02" fill="#20c0f0"/>
<rect x="72.38" y="308.5" width="29.08" height="1.02" fill="#60c8e0"/>
<rect x="101.46" y="308.5" width="67.86" height="1.02" fill="#f04010"/>
<rect x="169.32" y="308.5" width="67.86" height="1.02" fill="#e84010"/>
<rect x="237.18" y="308.5" width="67.86" height="1.02" fill="#d04010"/>
<rect x="305.04" y="308.5" width="58.17" height="1.02" fill="#c03000"/>
<rect x="33.6" y="309.52" width="19.39" height="1.03" fill="#30c030"/>
<rect x="52.99" y="309.52" width="19.39" height="1.03" fill="#20c0f0"/>
<rect x="72.38" y="309.52" width="29.08" height="1.03" fill="#20c0a0"/>
<rect x="101.46" y="309.52" width="9.69" height="1.03" fill="#20e020"/>
<rect x="111.15" y="309.52" width="9.69" height="1.03" fill="#20b0e0"/>
<rect x="120.85" y="309.52" width="38.78" height="1.03" fill="#f0c020"/>
<rect x="159.62" y="309.52" width="77.55" height="1.03" fill="#e84010"/>
<rect x="237.18" y="309.52" width="67.86" height="1.03" fill="#d04010"/>
<rect x="305.04" y="309.52" width="58.17" height="1.03" fill="#c03000"/>
<rect x="363.2" y="309.52" width="58.17" height="1.03" fill="#f08030"/>
<rect x="421.37" y="309.52" width="19.39" height="1.03" fill="#a03030"/>
<rect x="440.76" y="309.52" width="9.69" height="1.03" fill="#3080f0"/>
<rect x="33.6" y="310.55" width="19.39" height="1.02" fill="#a0b020"/>
<rect x="52.99" y="310.55" width="19.39" height="1.02" fill="#20c040"/>
<rect x="72.38" y="310.55" width="29.08" height="1.02" fill="#a09020"/>
<rect x="101.46" y="310.55" width="19.39" height="1.02" fill="#e02020"/>
<rect x="120.85" y="310.55" width="38.78" height="1.02" fill="#f0c040"/>
<rect x="159.62" y="310.55" width="9.69" height="1.02" fill="#f8e8c0"/>
<rect x="169.32" y="310.55" width="67.86" height="1.02" fill="#e86400"/>
<rect x="237.18" y="310.55" width="67.86" height="1.02" fill="#f8c090"/>
<rect x="33.6" y="311.57" width="19.39" height="1.03" fill="#a0b020"/>
<rect x="52.99" y="311.57" width="19.39" height="1.03" fill="#e02020"/>
<rect x="72.38" y="311.57" width="9.69" height="1.03" fill="#a09020"/>
<rect x="82.07" y="311.57" width="19.39" height="1.03" fill="#30b050"/>
<rect x="101.46" y="311.57" width="9.69" height="1.03" fill="#e02020"/>
<rect x="111.15" y="311.57" width="38.78" height="1.03" fill="#a0e0f0"/>
<rect x="149.93" y="311.57" width="29.08" height="1.03" fill="#f8e8c0"/>
<rect x="179.01" y="311.57" width="29.08" height="1.03" fill="#40c040"/>
<rect x="208.1" y="311.57" width="9.69" height="1.03" fill="#909040"/>
<rect x="217.79" y="311.57" width="87.25" height="1.03" fill="#f8c090"/>
<rect x="305.04" y="311.57" width="67.86" height="1.03" fill="#f08040"/>
<rect x="33.6" y="312.6" width="19.39" height="1.02" fill="#e02020"/>
<rect x="52.99" y="312.6" width="29.08" height="1.02" fill="#20b040"/>
<rect x="82.07" y="312.6" width="29.08" height="1.02" fill="#e02020"/>
<rect x="111.15" y="312.6" width="38.78" height="1.02" fill="#a0e0f0"/>
<rect x="149.93" y="312.6" width="19.39" height="1.02" fill="#f8e8c0"/>
<rect x="169.32" y="312.6" width="29.08" height="1.02" fill="#e86400"/>
<rect x="198.4" y="312.6" width="106.64" height="1.02" fill="#f8e0c8"/>
<rect x="370.96" y="312.6" width="11.63" height="1.02" fill="#b0a090"/>
<rect x="33.6" y="313.62" width="9.69" height="1.02" fill="#e02020"/>
<rect x="43.29" y="313.62" width="9.69" height="1.02" fill="#4040c0"/>
<rect x="52.99" y="313.62" width="19.39" height="1.02" fill="#e02020"/>
<rect x="72.38" y="313.62" width="29.08" height="1.02" fill="#20a0a0"/>
<rect x="101.46" y="313.62" width="184.19" height="1.02" fill="#e02020"/>
<rect x="285.65" y="313.62" width="87.25" height="1.02" fill="#40c0e0"/>
<rect x="33.6" y="314.65" width="9.69" height="1.03" fill="#e020a0"/>
<rect x="43.29" y="314.65" width="9.69" height="1.03" fill="#e06030"/>
<rect x="52.99" y="314.65" width="116.33" height="1.03" fill="#a0e0f0"/>
<rect x="169.32" y="314.65" width="29.08" height="1.03" fill="#f0a0a0"/>
<rect x="198.4" y="314.65" width="87.25" height="1.03" fill="#e02020"/>
<rect x="285.65" y="314.65" width="19.39" height="1.03" fill="#40c0d0"/>
<rect x="305.04" y="314.65" width="77.55" height="1.03" fill="#205070"/>
<rect x="382.59" y="314.65" width="9.69" height="1.03" fill="#904040"/>
<rect x="392.29" y="314.65" width="9.69" height="1.03" fill="#e04060"/>
<rect x="401.98" y="314.65" width="38.78" height="1.03" fill="#906040"/>
<rect x="440.76" y="314.65" width="19.39" height="1.03" fill="#e06070"/>
<rect x="33.6" y="315.68" width="9.69" height="1.02" fill="#20e020"/>
<rect x="43.29" y="315.68" width="116.33" height="1.02" fill="#80d0e0"/>
<rect x="159.62" y="315.68" width="9.69" height="1.02" fill="#f0a070"/>
<rect x="169.32" y="315.68" width="29.08" height="1.02" fill="#f0a0a0"/>
<rect x="198.4" y="315.68" width="38.78" height="1.02" fill="#e02020"/>
<rect x="237.18" y="315.68" width="67.86" height="1.02" fill="#f0a080"/>
<rect x="305.04" y="315.68" width="67.86" height="1.02" fill="#f0a060"/>
<rect x="372.9" y="315.68" width="9.69" height="1.02" fill="#f08030"/>
<rect x="382.59" y="315.68" width="38.78" height="1.02" fill="#f0a020"/>
<rect x="33.6" y="316.7" width="19.39" height="1.03" fill="#20c0a0"/>
<rect x="52.99" y="316.7" width="106.64" height="1.03" fill="#80d8f0"/>
<rect x="159.62" y="316.7" width="9.69" height="1.03" fill="#f0a070"/>
<rect x="169.32" y="316.7" width="67.86" height="1.03" fill="#f0d0c0"/>
<rect x="237.18" y="316.7" width="67.86" height="1.03" fill="#f0a080"/>
<rect x="305.04" y="316.7" width="67.86" height="1.03" fill="#f0a060"/>
<rect x="372.9" y="316.7" width="48.47" height="1.03" fill="#f0a020"/>
<rect x="33.6" y="317.73" width="145.41" height="1.02" fill="#20e030"/>
<rect x="179.01" y="317.73" width="29.08" height="1.02" fill="#10a010"/>
<rect x="208.1" y="317.73" width="38.78" height="1.02" fill="#e02020"/>
<rect x="246.87" y="317.73" width="58.17" height="1.02" fill="#f0a070"/>
<rect x="305.04" y="317.73" width="29.08" height="1.02" fill="#f0a080"/>
<rect x="353.51" y="317.73" width="9.69" height="1.02" fill="#f0a050"/>
<rect x="33.6" y="318.75" width="9.69" height="1.02" fill="#3050e0"/>
<rect x="43.29" y="318.75" width="135.72" height="1.02" fill="#00e000"/>
<rect x="179.01" y="318.75" width="29.08" height="1.02" fill="#10a010"/>
<rect x="208.1" y="318.75" width="29.08" height="1.02" fill="#e02020"/>
<rect x="237.18" y="318.75" width="19.39" height="1.02" fill="#20e020"/>
<rect x="256.57" y="318.75" width="77.55" height="1.02" fill="#f09080"/>
<rect x="33.6" y="319.77" width="203.58" height="1.03" fill="#00d000"/>
<rect x="237.18" y="319.77" width="19.39" height="1.03" fill="#f09080"/>
<rect x="256.57" y="319.77" width="116.33" height="1.03" fill="#203050"/>
</g>
<path d="M39.2 321.5H543.3" stroke="#000" stroke-width="1" fill="none"/>
<path d="M39.2 321.5v4M77.98 321.5v4M116.75 321.5v4M155.53 321.5v4M194.31 321.5v4M233.08 321.5v4M271.86 321.5v4M310.64 321.5v4M349.42 321.5v4M388.19 321.5v4M426.97 321.5v4M465.75 321.5v4M504.52 321.5v4M543.3 321.5v4" stroke="#000" stroke-width="1" fill="none"/>
<text x="39.2" y="337.2" font-size="7.7" font-weight="bold" style="stroke-width:0" text-anchor="middle">1</text>
<text x="77.98" y="337.2" font-size="7.7" font-weight="bold" style="stroke-width:0" text-anchor="middle">5</text>
<text x="116.75" y="337.2" font-size="7.7" font-weight="bold" style="stroke-width:0" text-anchor="middle">9</text>
<text x="155.53" y="337.2" font-size="7.7" font-weight="bold" style="stroke-width:0" text-anchor="middle">13</text>
<text x="194.31" y="337.2" font-size="7.7" font-weight="bold" style="stroke-width:0" text-anchor="middle">17</text>
<text x="233.08" y="337.2" font-size="7.7" font-weight="bold" style="stroke-width:0" text-anchor="middle">21</text>
<text x="271.86" y="337.2" font-size="7.7" font-weight="bold" style="stroke-width:0" text-anchor="middle">25</text>
<text x="310.64" y="337.2" font-size="7.7" font-weight="bold" style="stroke-width:0" text-anchor="middle">29</text>
<text x="349.42" y="337.2" font-size="7.7" font-weight="bold" style="stroke-width:0" text-anchor="middle">33</text>
<text x="388.19" y="337.2" font-size="7.7" font-weight="bold" style="stroke-width:0" text-anchor="middle">37</text>
<text x="426.97" y="337.2" font-size="7.7" font-weight="bold" style="stroke-width:0" text-anchor="middle">41</text>
<text x="465.75" y="337.2" font-size="7.7" font-weight="bold" style="stroke-width:0" text-anchor="middle">45</text>
<text x="504.52" y="337.2" font-size="7.7" font-weight="bold" style="stroke-width:0" text-anchor="middle">49</text>
<text x="543.3" y="337.2" font-size="7.7" font-weight="bold" style="stroke-width:0" text-anchor="middle">53</text>
<text x="304.7" y="275" font-size="8.84" font-weight="bold" style="stroke-width:0.1px" text-anchor="middle">4. Organizational career</text>
<text transform="translate(8.2 303.8) rotate(-90)" font-size="8" text-anchor="middle" textLength="76.5" lengthAdjust="spacingAndGlyphs">101 seq. (n=101), sorted</text>
<text transform="translate(28.7 320.3) rotate(-90)" font-size="7.9" style="stroke-width:0.2px" text-anchor="middle">1</text>
<text transform="translate(28.7 309.3) rotate(-90)" font-size="7.9" style="stroke-width:0.2px" text-anchor="middle">37</text>
<text transform="translate(28.7 295.8) rotate(-90)" font-size="7.9" style="stroke-width:0.2px" text-anchor="middle">79</text>
<g>
<rect x="31.9" y="372.9" width="45.97" height="1.04" fill="#70b030"/>
<rect x="77.87" y="372.9" width="9.19" height="1.04" fill="#a03020"/>
<rect x="87.07" y="372.9" width="91.94" height="1.04" fill="#40d000"/>
<rect x="179.01" y="372.9" width="9.19" height="1.04" fill="#20a080"/>
<rect x="188.2" y="372.9" width="18.39" height="1.04" fill="#802060"/>
<rect x="206.59" y="372.9" width="18.39" height="1.04" fill="#40d000"/>
<rect x="224.98" y="372.9" width="9.19" height="1.04" fill="#c0a040"/>
<rect x="234.17" y="372.9" width="9.19" height="1.04" fill="#20b0e0"/>
<rect x="243.37" y="372.9" width="9.19" height="1.04" fill="#e03020"/>
<rect x="252.56" y="372.9" width="36.78" height="1.04" fill="#f0b080"/>
<rect x="289.34" y="372.9" width="27.58" height="1.04" fill="#c08060"/>
<rect x="31.9" y="373.94" width="45.97" height="1.04" fill="#f0e0e0"/>
<rect x="77.87" y="373.94" width="9.19" height="1.04" fill="#a09020"/>
<rect x="87.07" y="373.94" width="9.19" height="1.04" fill="#40d000"/>
<rect x="96.26" y="373.94" width="45.97" height="1.04" fill="#80a020"/>
<rect x="142.23" y="373.94" width="9.19" height="1.04" fill="#d02020"/>
<rect x="151.42" y="373.94" width="9.19" height="1.04" fill="#40d000"/>
<rect x="160.62" y="373.94" width="91.94" height="1.04" fill="#a0a040"/>
<rect x="31.9" y="374.97" width="18.39" height="1.04" fill="#c0a040"/>
<rect x="50.29" y="374.97" width="36.78" height="1.04" fill="#a0a020"/>
<rect x="87.07" y="374.97" width="9.19" height="1.04" fill="#f0c0a0"/>
<rect x="96.26" y="374.97" width="64.36" height="1.04" fill="#90a020"/>
<rect x="160.62" y="374.97" width="18.39" height="1.04" fill="#806020"/>
<rect x="179.01" y="374.97" width="9.19" height="1.04" fill="#e0d0c0"/>
<rect x="188.2" y="374.97" width="64.36" height="1.04" fill="#a0c040"/>
<rect x="252.56" y="374.97" width="101.14" height="1.04" fill="#a06040"/>
<rect x="31.9" y="376.01" width="9.19" height="1.04" fill="#40c040"/>
<rect x="41.09" y="376.01" width="9.19" height="1.04" fill="#20c0e0"/>
<rect x="50.29" y="376.01" width="27.58" height="1.04" fill="#a0a030"/>
<rect x="77.87" y="376.01" width="82.75" height="1.04" fill="#40c040"/>
<rect x="160.62" y="376.01" width="91.94" height="1.04" fill="#a0c040"/>
<rect x="252.56" y="376.01" width="73.55" height="1.04" fill="#40c040"/>
<rect x="326.12" y="376.01" width="27.58" height="1.04" fill="#a06040"/>
<rect x="31.9" y="377.05" width="9.19" height="1.04" fill="#30c0e0"/>
<rect x="41.09" y="377.05" width="27.58" height="1.04" fill="#20c040"/>
<rect x="68.68" y="377.05" width="91.94" height="1.04" fill="#a0a020"/>
<rect x="160.62" y="377.05" width="91.94" height="1.04" fill="#40b020"/>
<rect x="252.56" y="377.05" width="36.78" height="1.04" fill="#a03018"/>
<rect x="289.34" y="377.05" width="9.19" height="1.04" fill="#f0e080"/>
<rect x="298.53" y="377.05" width="9.19" height="1.04" fill="#a06020"/>
<rect x="307.73" y="377.05" width="45.97" height="1.04" fill="#902010"/>
<rect x="353.7" y="377.05" width="18.39" height="1.04" fill="#208020"/>
<rect x="372.09" y="377.05" width="9.19" height="1.04" fill="#a0d080"/>
<rect x="31.9" y="378.08" width="9.19" height="1.04" fill="#a0a020"/>
<rect x="41.09" y="378.08" width="55.17" height="1.04" fill="#40c040"/>
<rect x="96.26" y="378.08" width="64.36" height="1.04" fill="#806020"/>
<rect x="160.62" y="378.08" width="18.39" height="1.04" fill="#f06020"/>
<rect x="179.01" y="378.08" width="9.19" height="1.04" fill="#e04020"/>
<rect x="188.2" y="378.08" width="27.58" height="1.04" fill="#e02020"/>
<rect x="215.78" y="378.08" width="36.78" height="1.04" fill="#a04020"/>
<rect x="252.56" y="378.08" width="101.14" height="1.04" fill="#a04030"/>
<rect x="353.7" y="378.08" width="18.39" height="1.04" fill="#801010"/>
<rect x="372.09" y="378.08" width="18.39" height="1.04" fill="#402010"/>
<rect x="390.47" y="378.08" width="55.17" height="1.04" fill="#c05010"/>
<rect x="31.9" y="379.12" width="36.78" height="1.04" fill="#f020c0"/>
<rect x="68.68" y="379.12" width="27.58" height="1.04" fill="#f0108a"/>
<rect x="96.26" y="379.12" width="18.39" height="1.04" fill="#f010c0"/>
<rect x="114.65" y="379.12" width="36.78" height="1.04" fill="#f01080"/>
<rect x="151.42" y="379.12" width="9.19" height="1.04" fill="#f08020"/>
<rect x="160.62" y="379.12" width="45.97" height="1.04" fill="#f01070"/>
<rect x="206.59" y="379.12" width="18.39" height="1.04" fill="#f0c0e0"/>
<rect x="224.98" y="379.12" width="9.19" height="1.04" fill="#30c0e0"/>
<rect x="234.17" y="379.12" width="18.39" height="1.04" fill="#a0f0a0"/>
<rect x="31.9" y="380.16" width="36.78" height="1.04" fill="#909020"/>
<rect x="68.68" y="380.16" width="27.58" height="1.04" fill="#f0108a"/>
<rect x="96.26" y="380.16" width="55.17" height="1.04" fill="#c0a020"/>
<rect x="151.42" y="380.16" width="9.19" height="1.04" fill="#e02020"/>
<rect x="160.62" y="380.16" width="9.19" height="1.04" fill="#a04020"/>
<rect x="169.81" y="380.16" width="9.19" height="1.04" fill="#f08020"/>
<rect x="179.01" y="380.16" width="45.97" height="1.04" fill="#b0f080"/>
<rect x="224.98" y="380.16" width="27.58" height="1.04" fill="#c0e0a0"/>
<rect x="252.56" y="380.16" width="55.17" height="1.04" fill="#c04848"/>
<rect x="31.9" y="381.2" width="9.19" height="1.04" fill="#e04060"/>
<rect x="41.09" y="381.2" width="27.58" height="1.04" fill="#a08040"/>
<rect x="68.68" y="381.2" width="9.19" height="1.04" fill="#40c040"/>
<rect x="77.87" y="381.2" width="18.39" height="1.04" fill="#a0a040"/>
<rect x="96.26" y="381.2" width="18.39" height="1.04" fill="#a06020"/>
<rect x="114.65" y="381.2" width="9.19" height="1.04" fill="#d0e0b0"/>
<rect x="123.84" y="381.2" width="27.58" height="1.04" fill="#e0c040"/>
<rect x="151.42" y="381.2" width="9.19" height="1.04" fill="#f8f8f0"/>
<rect x="160.62" y="381.2" width="9.19" height="1.04" fill="#e0a040"/>
<rect x="169.81" y="381.2" width="55.17" height="1.04" fill="#a0f080"/>
<rect x="224.98" y="381.2" width="27.58" height="1.04" fill="#f0f0c0"/>
<rect x="31.9" y="382.23" width="9.19" height="1.04" fill="#5060c0"/>
<rect x="41.09" y="382.23" width="27.58" height="1.04" fill="#40c040"/>
<rect x="68.68" y="382.23" width="9.19" height="1.04" fill="#20b0e0"/>
<rect x="77.87" y="382.23" width="18.39" height="1.04" fill="#a0a030"/>
<rect x="96.26" y="382.23" width="64.36" height="1.04" fill="#40c040"/>
<rect x="160.62" y="382.23" width="9.19" height="1.04" fill="#e0a040"/>
<rect x="169.81" y="382.23" width="55.17" height="1.04" fill="#a0f080"/>
<rect x="224.98" y="382.23" width="27.58" height="1.04" fill="#f0f0c0"/>
<rect x="31.9" y="383.27" width="36.78" height="1.04" fill="#a0a020"/>
<rect x="68.68" y="383.27" width="9.19" height="1.04" fill="#20b0e0"/>
<rect x="77.87" y="383.27" width="18.39" height="1.04" fill="#a06030"/>
<rect x="96.26" y="383.27" width="64.36" height="1.04" fill="#80a030"/>
<rect x="160.62" y="383.27" width="18.39" height="1.04" fill="#e04020"/>
<rect x="179.01" y="383.27" width="36.78" height="1.04" fill="#c08040"/>
<rect x="215.78" y="383.27" width="36.78" height="1.04" fill="#a06030"/>
<rect x="31.9" y="384.31" width="64.36" height="1.04" fill="#e02020"/>
<rect x="96.26" y="384.31" width="18.39" height="1.04" fill="#a0e040"/>
<rect x="114.65" y="384.31" width="36.78" height="1.04" fill="#6040a0"/>
<rect x="151.42" y="384.31" width="9.19" height="1.04" fill="#a0e040"/>
<rect x="160.62" y="384.31" width="18.39" height="1.04" fill="#e04020"/>
<rect x="179.01" y="384.31" width="73.55" height="1.04" fill="#a08040"/>
<rect x="252.56" y="384.31" width="27.58" height="1.04" fill="#a0f080"/>
<rect x="280.14" y="384.31" width="73.55" height="1.04" fill="#d0a080"/>
<rect x="353.7" y="384.31" width="36.78" height="1.04" fill="#c08060"/>
<rect x="31.9" y="385.34" width="64.36" height="1.04" fill="#e02020"/>
<rect x="96.26" y="385.34" width="55.17" height="1.04" fill="#40c040"/>
<rect x="151.42" y="385.34" width="9.19" height="1.04" fill="#f08020"/>
<rect x="160.62" y="385.34" width="27.58" height="1.04" fill="#d0a080"/>
<rect x="188.2" y="385.34" width="64.36" height="1.04" fill="#909060"/>
<rect x="252.56" y="385.34" width="27.58" height="1.04" fill="#a0f080"/>
<rect x="280.14" y="385.34" width="73.55" height="1.04" fill="#d0a080"/>
<rect x="31.9" y="386.38" width="9.19" height="1.04" fill="#206020"/>
<rect x="41.09" y="386.38" width="9.19" height="1.04" fill="#c0f0c0"/>
<rect x="50.29" y="386.38" width="18.39" height="1.04" fill="#60e060"/>
<rect x="68.68" y="386.38" width="27.58" height="1.04" fill="#40c040"/>
<rect x="96.26" y="386.38" width="64.36" height="1.04" fill="#e0f0d0"/>
<rect x="160.62" y="386.38" width="27.58" height="1.04" fill="#d0a080"/>
<rect x="188.2" y="386.38" width="64.36" height="1.04" fill="#808060"/>
<rect x="252.56" y="386.38" width="64.36" height="1.04" fill="#e0b090"/>
<rect x="31.9" y="387.42" width="9.19" height="1.04" fill="#40c040"/>
<rect x="41.09" y="387.42" width="9.19" height="1.04" fill="#d0f0d0"/>
<rect x="50.29" y="387.42" width="45.97" height="1.04" fill="#a0e080"/>
<rect x="96.26" y="387.42" width="9.19" height="1.04" fill="#c02020"/>
<rect x="105.45" y="387.42" width="18.39" height="1.04" fill="#f0a0b0"/>
<rect x="123.84" y="387.42" width="36.78" height="1.04" fill="#d0a0a0"/>
<rect x="160.62" y="387.42" width="27.58" height="1.04" fill="#a0e0e0"/>
<rect x="188.2" y="387.42" width="64.36" height="1.04" fill="#a0a040"/>
<rect x="252.56" y="387.42" width="64.36" height="1.04" fill="#e0b090"/>
<rect x="349.1" y="387.42" width="4.6" height="1.04" fill="#f0b090"/>
<rect x="31.9" y="388.45" width="36.78" height="1.04" fill="#a04020"/>
<rect x="68.68" y="388.45" width="9.19" height="1.04" fill="#40c040"/>
<rect x="77.87" y="388.45" width="9.19" height="1.04" fill="#e030a0"/>
<rect x="87.07" y="388.45" width="9.19" height="1.04" fill="#40c040"/>
<rect x="96.26" y="388.45" width="9.19" height="1.04" fill="#c02020"/>
<rect x="105.45" y="388.45" width="18.39" height="1.04" fill="#f0a0b0"/>
<rect x="123.84" y="388.45" width="36.78" height="1.04" fill="#d0a0a0"/>
<rect x="160.62" y="388.45" width="18.39" height="1.04" fill="#f0d0e0"/>
<rect x="179.01" y="388.45" width="55.17" height="1.04" fill="#e04090"/>
<rect x="234.17" y="388.45" width="9.19" height="1.04" fill="#f0f0f0"/>
<rect x="243.37" y="388.45" width="9.19" height="1.04" fill="#a0c0f0"/>
<rect x="252.56" y="388.45" width="18.39" height="1.04" fill="#f0a080"/>
<rect x="31.9" y="389.49" width="9.19" height="1.04" fill="#4060d0"/>
<rect x="41.09" y="389.49" width="36.78" height="1.04" fill="#8080e0"/>
<rect x="77.87" y="389.49" width="18.39" height="1.04" fill="#f03050"/>
<rect x="96.26" y="389.49" width="64.36" height="1.04" fill="#40c040"/>
<rect x="160.62" y="389.49" width="45.97" height="1.04" fill="#30c030"/>
<rect x="206.59" y="389.49" width="45.97" height="1.04" fill="#f0f0f0"/>
<rect x="31.9" y="390.53" width="9.19" height="1.04" fill="#20d020"/>
<rect x="41.09" y="390.53" width="36.78" height="1.04" fill="#40c040"/>
<rect x="77.87" y="390.53" width="18.39" height="1.04" fill="#e02020"/>
<rect x="96.26" y="390.53" width="18.39" height="1.04" fill="#40c040"/>
<rect x="114.65" y="390.53" width="27.58" height="1.04" fill="#e0e060"/>
<rect x="142.23" y="390.53" width="18.39" height="1.04" fill="#40c040"/>
<rect x="160.62" y="390.53" width="45.97" height="1.04" fill="#30c030"/>
<rect x="206.59" y="390.53" width="45.97" height="1.04" fill="#f0f0f0"/>
<rect x="31.9" y="391.57" width="64.36" height="1.04" fill="#20c020"/>
<rect x="96.26" y="391.57" width="64.36" height="1.04" fill="#40c040"/>
<rect x="160.62" y="391.57" width="91.94" height="1.04" fill="#40b0b0"/>
<rect x="31.9" y="392.6" width="18.39" height="1.04" fill="#2060d0"/>
<rect x="50.29" y="392.6" width="27.58" height="1.04" fill="#f0f0f0"/>
<rect x="77.87" y="392.6" width="18.39" height="1.04" fill="#a0e0f0"/>
<rect x="96.26" y="392.6" width="18.39" height="1.04" fill="#6060d0"/>
<rect x="114.65" y="392.6" width="45.97" height="1.04" fill="#a0e0a0"/>
<rect x="160.62" y="392.6" width="91.94" height="1.04" fill="#40b0b0"/>
<rect x="252.56" y="392.6" width="82.75" height="1.04" fill="#6090e0"/>
<rect x="335.31" y="392.6" width="18.39" height="1.04" fill="#c07040"/>
<rect x="349.1" y="392.6" width="4.6" height="1.04" fill="#f06060"/>
<rect x="31.9" y="393.64" width="18.39" height="1.04" fill="#2060d0"/>
<rect x="50.29" y="393.64" width="45.97" height="1.04" fill="#20c040"/>
<rect x="96.26" y="393.64" width="64.36" height="1.04" fill="#f0f0f0"/>
<rect x="160.62" y="393.64" width="91.94" height="1.04" fill="#80a040"/>
<rect x="252.56" y="393.64" width="9.19" height="1.04" fill="#209080"/>
<rect x="261.76" y="393.64" width="82.75" height="1.04" fill="#d0b090"/>
<rect x="31.9" y="394.68" width="18.39" height="1.04" fill="#f02020"/>
<rect x="50.29" y="394.68" width="27.58" height="1.04" fill="#f0b080"/>
<rect x="77.87" y="394.68" width="18.39" height="1.04" fill="#f0a0a0"/>
<rect x="96.26" y="394.68" width="18.39" height="1.04" fill="#f0f0e0"/>
<rect x="114.65" y="394.68" width="27.58" height="1.04" fill="#f080c0"/>
<rect x="142.23" y="394.68" width="18.39" height="1.04" fill="#f0d0d0"/>
<rect x="160.62" y="394.68" width="55.17" height="1.04" fill="#f0a060"/>
<rect x="215.78" y="394.68" width="36.78" height="1.04" fill="#f0e0d0"/>
<rect x="252.56" y="394.68" width="91.94" height="1.04" fill="#d0b090"/>
<rect x="31.9" y="395.71" width="18.39" height="1.04" fill="#f02020"/>
<rect x="50.29" y="395.71" width="9.19" height="1.04" fill="#a08040"/>
<rect x="59.48" y="395.71" width="9.19" height="1.04" fill="#7040c0"/>
<rect x="68.68" y="395.71" width="9.19" height="1.04" fill="#20e020"/>
<rect x="77.87" y="395.71" width="18.39" height="1.04" fill="#a0a040"/>
<rect x="96.26" y="395.71" width="64.36" height="1.04" fill="#40c040"/>
<rect x="160.62" y="395.71" width="55.17" height="1.04" fill="#f0a060"/>
<rect x="215.78" y="395.71" width="36.78" height="1.04" fill="#f0e0d0"/>
<rect x="252.56" y="395.71" width="82.75" height="1.04" fill="#f0e0e0"/>
<rect x="31.9" y="396.75" width="18.39" height="1.04" fill="#20c040"/>
<rect x="50.29" y="396.75" width="9.19" height="1.04" fill="#e02020"/>
<rect x="59.48" y="396.75" width="36.78" height="1.04" fill="#a06020"/>
<rect x="96.26" y="396.75" width="27.58" height="1.04" fill="#a0a040"/>
<rect x="123.84" y="396.75" width="36.78" height="1.04" fill="#f0a080"/>
<rect x="160.62" y="396.75" width="27.58" height="1.04" fill="#e02020"/>
<rect x="188.2" y="396.75" width="27.58" height="1.04" fill="#f08020"/>
<rect x="215.78" y="396.75" width="36.78" height="1.04" fill="#e0a070"/>
<rect x="252.56" y="396.75" width="18.39" height="1.04" fill="#c02020"/>
<rect x="270.95" y="396.75" width="9.19" height="1.04" fill="#202060"/>
<rect x="280.14" y="396.75" width="55.17" height="1.04" fill="#d0a080"/>
<rect x="349.1" y="396.75" width="50.57" height="1.04" fill="#d0a080"/>
<rect x="31.9" y="397.79" width="27.58" height="1.04" fill="#e02020"/>
<rect x="59.48" y="397.79" width="36.78" height="1.04" fill="#b06020"/>
<rect x="96.26" y="397.79" width="64.36" height="1.04" fill="#f0d0b0"/>
<rect x="160.62" y="397.79" width="27.58" height="1.04" fill="#e05020"/>
<rect x="188.2" y="397.79" width="27.58" height="1.04" fill="#a06040"/>
<rect x="215.78" y="397.79" width="18.39" height="1.04" fill="#c040a0"/>
<rect x="234.17" y="397.79" width="18.39" height="1.04" fill="#8040a0"/>
<rect x="252.56" y="397.79" width="82.75" height="1.04" fill="#d0a080"/>
<rect x="31.9" y="398.82" width="18.39" height="1.04" fill="#f0c0c0"/>
<rect x="50.29" y="398.82" width="27.58" height="1.04" fill="#a0a040"/>
<rect x="77.87" y="398.82" width="82.75" height="1.04" fill="#40c040"/>
<rect x="160.62" y="398.82" width="27.58" height="1.04" fill="#e05020"/>
<rect x="188.2" y="398.82" width="27.58" height="1.04" fill="#a06040"/>
<rect x="215.78" y="398.82" width="18.39" height="1.04" fill="#c040a0"/>
<rect x="234.17" y="398.82" width="18.39" height="1.04" fill="#f0d0e0"/>
<rect x="252.56" y="398.82" width="45.97" height="1.04" fill="#f05050"/>
<rect x="298.53" y="398.82" width="55.17" height="1.04" fill="#a04030"/>
<rect x="353.7" y="398.82" width="27.58" height="1.04" fill="#c07080"/>
<rect x="381.28" y="398.82" width="45.97" height="1.04" fill="#f06070"/>
<rect x="427.25" y="398.82" width="18.39" height="1.04" fill="#b06070"/>
<rect x="31.9" y="399.86" width="9.19" height="1.04" fill="#e02020"/>
<rect x="41.09" y="399.86" width="27.58" height="1.04" fill="#4060d0"/>
<rect x="68.68" y="399.86" width="9.19" height="1.04" fill="#20e040"/>
<rect x="77.87" y="399.86" width="18.39" height="1.04" fill="#a0a040"/>
<rect x="96.26" y="399.86" width="64.36" height="1.04" fill="#e04020"/>
<rect x="160.62" y="399.86" width="27.58" height="1.04" fill="#f0a070"/>
<rect x="188.2" y="399.86" width="18.39" height="1.04" fill="#809040"/>
<rect x="206.59" y="399.86" width="18.39" height="1.04" fill="#e080a0"/>
<rect x="224.98" y="399.86" width="27.58" height="1.04" fill="#f0d0e0"/>
<rect x="252.56" y="399.86" width="110.33" height="1.04" fill="#f0a0a0"/>
<rect x="31.9" y="400.9" width="18.39" height="1.04" fill="#f0f0e0"/>
<rect x="50.29" y="400.9" width="18.39" height="1.04" fill="#20b0e0"/>
<rect x="68.68" y="400.9" width="27.58" height="1.04" fill="#80a040"/>
<rect x="96.26" y="400.9" width="18.39" height="1.04" fill="#a0a040"/>
<rect x="114.65" y="400.9" width="18.39" height="1.04" fill="#20b0e0"/>
<rect x="133.04" y="400.9" width="27.58" height="1.04" fill="#e05020"/>
<rect x="160.62" y="400.9" width="27.58" height="1.04" fill="#f0a070"/>
<rect x="188.2" y="400.9" width="64.36" height="1.04" fill="#f0c0d0"/>
<rect x="252.56" y="400.9" width="55.17" height="1.04" fill="#f0b080"/>
<rect x="307.73" y="400.9" width="55.17" height="1.04" fill="#a06040"/>
<rect x="31.9" y="401.94" width="36.78" height="1.04" fill="#1a70e0"/>
<rect x="68.68" y="401.94" width="27.58" height="1.04" fill="#80a040"/>
<rect x="96.26" y="401.94" width="36.78" height="1.04" fill="#206060"/>
<rect x="133.04" y="401.94" width="27.58" height="1.04" fill="#2080a0"/>
<rect x="160.62" y="401.94" width="18.39" height="1.04" fill="#40c0e0"/>
<rect x="179.01" y="401.94" width="18.39" height="1.04" fill="#2060d0"/>
<rect x="197.4" y="401.94" width="55.17" height="1.04" fill="#a0c0e0"/>
<rect x="252.56" y="401.94" width="55.17" height="1.04" fill="#f0b080"/>
<rect x="307.73" y="401.94" width="82.75" height="1.04" fill="#c06020"/>
<rect x="31.9" y="402.97" width="64.36" height="1.04" fill="#2080e0"/>
<rect x="96.26" y="402.97" width="64.36" height="1.04" fill="#80d0f0"/>
<rect x="160.62" y="402.97" width="91.94" height="1.04" fill="#a0c0e0"/>
<rect x="349.1" y="402.97" width="41.37" height="1.04" fill="#c06020"/>
</g>
<path d="M37.3 405.5H515.4" stroke="#000" stroke-width="1" fill="none"/>
<path d="M37.3 405.5v4M74.08 405.5v4M110.85 405.5v4M147.63 405.5v4M184.41 405.5v4M221.18 405.5v4M257.96 405.5v4M294.74 405.5v4M331.52 405.5v4M368.29 405.5v4M405.07 405.5v4M441.85 405.5v4M478.62 405.5v4M515.4 405.5v4" stroke="#000" stroke-width="1" fill="none"/>
<text x="37.3" y="420.8" font-size="7.35" font-weight="bold" style="stroke-width:0" text-anchor="middle">1</text>
<text x="74.08" y="420.8" font-size="7.35" font-weight="bold" style="stroke-width:0" text-anchor="middle">5</text>
<text x="110.85" y="420.8" font-size="7.35" font-weight="bold" style="stroke-width:0" text-anchor="middle">9</text>
<text x="147.63" y="420.8" font-size="7.35" font-weight="bold" style="stroke-width:0" text-anchor="middle">13</text>
<text x="184.41" y="420.8" font-size="7.35" font-weight="bold" style="stroke-width:0" text-anchor="middle">17</text>
<text x="221.18" y="420.8" font-size="7.35" font-weight="bold" style="stroke-width:0" text-anchor="middle">21</text>
<text x="257.96" y="420.8" font-size="7.35" font-weight="bold" style="stroke-width:0" text-anchor="middle">25</text>
<text x="294.74" y="420.8" font-size="7.35" font-weight="bold" style="stroke-width:0" text-anchor="middle">29</text>
<text x="331.52" y="420.8" font-size="7.35" font-weight="bold" style="stroke-width:0" text-anchor="middle">33</text>
<text x="368.29" y="420.8" font-size="7.35" font-weight="bold" style="stroke-width:0" text-anchor="middle">37</text>
<text x="405.07" y="420.8" font-size="7.35" font-weight="bold" style="stroke-width:0" text-anchor="middle">41</text>
<text x="441.85" y="420.8" font-size="7.35" font-weight="bold" style="stroke-width:0" text-anchor="middle">45</text>
<text x="478.62" y="420.8" font-size="7.35" font-weight="bold" style="stroke-width:0" text-anchor="middle">49</text>
<text x="515.4" y="420.8" font-size="7.35" font-weight="bold" style="stroke-width:0" text-anchor="middle">53</text>
<text x="289.2" y="362.3" font-size="8.33" font-weight="bold" style="stroke-width:0.1px" text-anchor="middle">5. Local government career</text>
<text transform="translate(8.2 389.3) rotate(-90)" font-size="8" text-anchor="middle" textLength="67" lengthAdjust="spacingAndGlyphs">90 seq. (n=90), sorted</text>
<text transform="translate(27.3 404.7) rotate(-90)" font-size="7.9" style="stroke-width:0.2px" text-anchor="middle">1</text>
<text transform="translate(27.3 393) rotate(-90)" font-size="7.9" style="stroke-width:0.2px" text-anchor="middle">33</text>
<text transform="translate(27.3 380.6) rotate(-90)" font-size="7.9" style="stroke-width:0.2px" text-anchor="middle">70</text>
<g>
<rect x="31.9" y="457" width="193.08" height="1.03" fill="#fa1a78"/>
<rect x="224.98" y="457" width="9.19" height="1.03" fill="#f080c0"/>
<rect x="243.37" y="457" width="9.19" height="1.03" fill="#c0e080"/>
<rect x="31.9" y="458.03" width="147.11" height="1.03" fill="#fa1a78"/>
<rect x="179.01" y="458.03" width="9.19" height="1.03" fill="#a0a040"/>
<rect x="188.2" y="458.03" width="9.19" height="1.03" fill="#c0e080"/>
<rect x="197.4" y="458.03" width="9.19" height="1.03" fill="#a0a040"/>
<rect x="206.59" y="458.03" width="18.39" height="1.03" fill="#fa1a78"/>
<rect x="224.98" y="458.03" width="27.58" height="1.03" fill="#f0a0d0"/>
<rect x="252.56" y="458.03" width="18.39" height="1.03" fill="#90b090"/>
<rect x="270.95" y="458.03" width="32.18" height="1.03" fill="#c0e060"/>
<rect x="303.13" y="458.03" width="13.79" height="1.03" fill="#80a040"/>
<rect x="316.92" y="458.03" width="27.58" height="1.03" fill="#c0e060"/>
<rect x="344.5" y="458.03" width="55.17" height="1.03" fill="#709040"/>
<rect x="31.9" y="459.06" width="147.11" height="1.03" fill="#fa1a78"/>
<rect x="179.01" y="459.06" width="9.19" height="1.03" fill="#f09060"/>
<rect x="188.2" y="459.06" width="64.36" height="1.03" fill="#f878b0"/>
<rect x="252.56" y="459.06" width="82.75" height="1.03" fill="#c0e060"/>
<rect x="31.9" y="460.08" width="16.55" height="1.03" fill="#3c6cd0"/>
<rect x="48.45" y="460.08" width="3.68" height="1.03" fill="#fa1a78"/>
<rect x="52.13" y="460.08" width="44.13" height="1.03" fill="#3c6cd0"/>
<rect x="96.26" y="460.08" width="82.75" height="1.03" fill="#fa1a78"/>
<rect x="179.01" y="460.08" width="9.19" height="1.03" fill="#f09060"/>
<rect x="188.2" y="460.08" width="73.55" height="1.03" fill="#fa1a78"/>
<rect x="261.76" y="460.08" width="9.19" height="1.03" fill="#f0a0c0"/>
<rect x="31.9" y="461.11" width="27.58" height="1.03" fill="#fa1a78"/>
<rect x="59.48" y="461.11" width="18.39" height="1.03" fill="#f0c0d0"/>
<rect x="77.87" y="461.11" width="36.78" height="1.03" fill="#fa1a78"/>
<rect x="114.65" y="461.11" width="9.19" height="1.03" fill="#e02020"/>
<rect x="123.84" y="461.11" width="55.17" height="1.03" fill="#fa1a78"/>
<rect x="179.01" y="461.11" width="9.19" height="1.03" fill="#8040b0"/>
<rect x="188.2" y="461.11" width="18.39" height="1.03" fill="#fa1a78"/>
<rect x="206.59" y="461.11" width="45.97" height="1.03" fill="#f8e0f0"/>
<rect x="252.56" y="461.11" width="18.39" height="1.03" fill="#f0a0c0"/>
<rect x="270.95" y="461.11" width="18.39" height="1.03" fill="#e06040"/>
<rect x="289.34" y="461.11" width="36.78" height="1.03" fill="#f050c0"/>
<rect x="31.9" y="462.14" width="174.69" height="1.03" fill="#fa1a78"/>
<rect x="206.59" y="462.14" width="45.97" height="1.03" fill="#f8e0f0"/>
<rect x="252.56" y="462.14" width="36.78" height="1.03" fill="#fa1a78"/>
<rect x="289.34" y="462.14" width="36.78" height="1.03" fill="#f040a0"/>
<rect x="31.9" y="463.17" width="9.19" height="1.03" fill="#f8e0f0"/>
<rect x="41.09" y="463.17" width="9.19" height="1.03" fill="#fa1a78"/>
<rect x="50.29" y="463.17" width="18.39" height="1.03" fill="#f0d0e0"/>
<rect x="68.68" y="463.17" width="9.19" height="1.03" fill="#3060c0"/>
<rect x="77.87" y="463.17" width="18.39" height="1.03" fill="#30a0b0"/>
<rect x="96.26" y="463.17" width="96.54" height="1.03" fill="#fa1a78"/>
<rect x="192.8" y="463.17" width="9.19" height="1.03" fill="#40a0a0"/>
<rect x="201.99" y="463.17" width="13.79" height="1.03" fill="#4040c0"/>
<rect x="215.78" y="463.17" width="73.55" height="1.03" fill="#fa1a78"/>
<rect x="31.9" y="464.2" width="64.36" height="1.03" fill="#fa1a78"/>
<rect x="96.26" y="464.2" width="27.58" height="1.03" fill="#30a080"/>
<rect x="123.84" y="464.2" width="64.36" height="1.03" fill="#fa1a78"/>
<rect x="188.2" y="464.2" width="27.58" height="1.03" fill="#4040c0"/>
<rect x="215.78" y="464.2" width="36.78" height="1.03" fill="#a08040"/>
<rect x="252.56" y="464.2" width="36.78" height="1.03" fill="#fa1a78"/>
<rect x="289.34" y="464.2" width="45.97" height="1.03" fill="#30a0a0"/>
<rect x="31.9" y="465.22" width="64.36" height="1.03" fill="#fa1a78"/>
<rect x="96.26" y="465.22" width="27.58" height="1.03" fill="#30a0a0"/>
<rect x="123.84" y="465.22" width="18.39" height="1.03" fill="#f0a060"/>
<rect x="142.23" y="465.22" width="4.6" height="1.03" fill="#fa1a78"/>
<rect x="146.83" y="465.22" width="13.79" height="1.03" fill="#4060d0"/>
<rect x="160.62" y="465.22" width="55.17" height="1.03" fill="#f878b0"/>
<rect x="215.78" y="465.22" width="36.78" height="1.03" fill="#a08040"/>
<rect x="252.56" y="465.22" width="36.78" height="1.03" fill="#fa1a78"/>
<rect x="289.34" y="465.22" width="45.97" height="1.03" fill="#30a0a0"/>
<rect x="31.9" y="466.25" width="18.39" height="1.03" fill="#fa1a78"/>
<rect x="50.29" y="466.25" width="27.58" height="1.03" fill="#a0a040"/>
<rect x="77.87" y="466.25" width="55.17" height="1.03" fill="#fa1a78"/>
<rect x="133.04" y="466.25" width="27.58" height="1.03" fill="#20c040"/>
<rect x="160.62" y="466.25" width="36.78" height="1.03" fill="#fa1a78"/>
<rect x="197.4" y="466.25" width="55.17" height="1.03" fill="#f8e0f0"/>
<rect x="252.56" y="466.25" width="18.39" height="1.03" fill="#fa1a78"/>
<rect x="270.95" y="466.25" width="9.19" height="1.03" fill="#4050c0"/>
<rect x="280.14" y="466.25" width="9.19" height="1.03" fill="#fa1a78"/>
<rect x="289.34" y="466.25" width="9.19" height="1.03" fill="#4050c0"/>
<rect x="298.53" y="466.25" width="36.78" height="1.03" fill="#f0a0c0"/>
<rect x="338.99" y="466.25" width="14.71" height="1.03" fill="#30a0c0"/>
<rect x="31.9" y="467.28" width="18.39" height="1.03" fill="#80a040"/>
<rect x="50.29" y="467.28" width="45.97" height="1.03" fill="#f0d0e0"/>
<rect x="96.26" y="467.28" width="9.19" height="1.03" fill="#f8e0f0"/>
<rect x="105.45" y="467.28" width="9.19" height="1.03" fill="#fa1a78"/>
<rect x="114.65" y="467.28" width="18.39" height="1.03" fill="#f8f8f8"/>
<rect x="133.04" y="467.28" width="9.19" height="1.03" fill="#f0a0d0"/>
<rect x="142.23" y="467.28" width="55.17" height="1.03" fill="#fa1a78"/>
<rect x="197.4" y="467.28" width="55.17" height="1.03" fill="#f8e0f0"/>
<rect x="252.56" y="467.28" width="82.75" height="1.03" fill="#f0a0c0"/>
<rect x="338.99" y="467.28" width="23.91" height="1.03" fill="#f050c0"/>
<rect x="31.9" y="468.31" width="9.19" height="1.03" fill="#4040c0"/>
<rect x="41.09" y="468.31" width="55.17" height="1.03" fill="#f0c0e0"/>
<rect x="96.26" y="468.31" width="64.36" height="1.03" fill="#fa1a78"/>
<rect x="160.62" y="468.31" width="32.18" height="1.03" fill="#f02040"/>
<rect x="192.8" y="468.31" width="59.76" height="1.03" fill="#fa1a78"/>
<rect x="252.56" y="468.31" width="82.75" height="1.03" fill="#e02040"/>
<rect x="31.9" y="469.34" width="45.97" height="1.03" fill="#3050d0"/>
<rect x="77.87" y="469.34" width="9.19" height="1.03" fill="#30a080"/>
<rect x="87.07" y="469.34" width="9.19" height="1.03" fill="#f0c0a0"/>
<rect x="96.26" y="469.34" width="27.58" height="1.03" fill="#fa1a78"/>
<rect x="123.84" y="469.34" width="18.39" height="1.03" fill="#30b040"/>
<rect x="142.23" y="469.34" width="13.79" height="1.03" fill="#30a0a0"/>
<rect x="156.02" y="469.34" width="4.6" height="1.03" fill="#f08020"/>
<rect x="160.62" y="469.34" width="45.97" height="1.03" fill="#f02040"/>
<rect x="206.59" y="469.34" width="45.97" height="1.03" fill="#fa1a78"/>
<rect x="252.56" y="469.34" width="45.97" height="1.03" fill="#e02040"/>
<rect x="298.53" y="469.34" width="36.78" height="1.03" fill="#104060"/>
<rect x="31.9" y="470.36" width="9.19" height="1.03" fill="#a0a020"/>
<rect x="41.09" y="470.36" width="9.19" height="1.03" fill="#3050c0"/>
<rect x="50.29" y="470.36" width="27.58" height="1.03" fill="#fa1a78"/>
<rect x="77.87" y="470.36" width="18.39" height="1.03" fill="#d02020"/>
<rect x="96.26" y="470.36" width="27.58" height="1.03" fill="#a08040"/>
<rect x="123.84" y="470.36" width="36.78" height="1.03" fill="#f0c0e0"/>
<rect x="160.62" y="470.36" width="45.97" height="1.03" fill="#f02040"/>
<rect x="206.59" y="470.36" width="45.97" height="1.03" fill="#f8a0c8"/>
<rect x="252.56" y="470.36" width="82.75" height="1.03" fill="#f080a0"/>
<rect x="31.9" y="471.39" width="128.72" height="1.03" fill="#fa1a78"/>
<rect x="160.62" y="471.39" width="91.94" height="1.03" fill="#f060a0"/>
<rect x="252.56" y="471.39" width="82.75" height="1.03" fill="#f080a0"/>
<rect x="31.9" y="472.42" width="114.93" height="1.03" fill="#fa1a78"/>
<rect x="146.83" y="472.42" width="13.79" height="1.03" fill="#e02020"/>
<rect x="160.62" y="472.42" width="45.97" height="1.03" fill="#e02030"/>
<rect x="206.59" y="472.42" width="45.97" height="1.03" fill="#fa1a78"/>
<rect x="252.56" y="472.42" width="119.53" height="1.03" fill="#f03040"/>
<rect x="372.09" y="472.42" width="27.58" height="1.03" fill="#904020"/>
<rect x="399.67" y="472.42" width="27.58" height="1.03" fill="#f8e8d0"/>
<rect x="427.25" y="472.42" width="73.55" height="1.03" fill="#f08040"/>
<rect x="500.81" y="472.42" width="45.97" height="1.03" fill="#a06040"/>
<rect x="31.9" y="473.45" width="114.93" height="1.03" fill="#fa1a78"/>
<rect x="146.83" y="473.45" width="13.79" height="1.03" fill="#e02020"/>
<rect x="160.62" y="473.45" width="45.97" height="1.03" fill="#e02030"/>
<rect x="206.59" y="473.45" width="82.75" height="1.03" fill="#6050c0"/>
<rect x="289.34" y="473.45" width="55.17" height="1.03" fill="#e02020"/>
<rect x="344.5" y="473.45" width="27.58" height="1.03" fill="#f03040"/>
<rect x="372.09" y="473.45" width="27.58" height="1.03" fill="#904020"/>
<rect x="31.9" y="474.48" width="128.72" height="1.03" fill="#fa1a78"/>
<rect x="160.62" y="474.48" width="45.97" height="1.03" fill="#e02030"/>
<rect x="206.59" y="474.48" width="45.97" height="1.03" fill="#6050c0"/>
<rect x="252.56" y="474.48" width="18.39" height="1.03" fill="#e06020"/>
<rect x="270.95" y="474.48" width="18.39" height="1.03" fill="#c02020"/>
<rect x="289.34" y="474.48" width="45.97" height="1.03" fill="#e02020"/>
<rect x="335.31" y="474.48" width="18.39" height="1.03" fill="#8040a0"/>
<rect x="390.47" y="474.48" width="9.19" height="1.03" fill="#e03030"/>
<rect x="436.45" y="474.48" width="18.39" height="1.03" fill="#e03030"/>
<rect x="31.9" y="475.5" width="183.88" height="1.03" fill="#fa1a78"/>
<rect x="215.78" y="475.5" width="13.79" height="1.03" fill="#20b020"/>
<rect x="229.58" y="475.5" width="22.99" height="1.03" fill="#fa1a78"/>
<rect x="252.56" y="475.5" width="27.58" height="1.03" fill="#f0a060"/>
<rect x="280.14" y="475.5" width="18.39" height="1.03" fill="#40c040"/>
<rect x="298.53" y="475.5" width="45.97" height="1.03" fill="#f0c0a0"/>
<rect x="344.5" y="475.5" width="27.58" height="1.03" fill="#f07030"/>
<rect x="31.9" y="476.53" width="18.39" height="1.03" fill="#fa1a78"/>
<rect x="50.29" y="476.53" width="18.39" height="1.03" fill="#3060c0"/>
<rect x="68.68" y="476.53" width="87.35" height="1.03" fill="#fa1a78"/>
<rect x="156.02" y="476.53" width="4.6" height="1.03" fill="#f080c0"/>
<rect x="160.62" y="476.53" width="45.97" height="1.03" fill="#f0d0e0"/>
<rect x="206.59" y="476.53" width="9.19" height="1.03" fill="#20b020"/>
<rect x="215.78" y="476.53" width="36.78" height="1.03" fill="#f0f0e0"/>
<rect x="252.56" y="476.53" width="91.94" height="1.03" fill="#f0f0d0"/>
<rect x="344.5" y="476.53" width="27.58" height="1.03" fill="#f07030"/>
<rect x="31.9" y="477.56" width="64.36" height="1.03" fill="#fa1a78"/>
<rect x="96.26" y="477.56" width="9.19" height="1.03" fill="#3060c0"/>
<rect x="105.45" y="477.56" width="18.39" height="1.03" fill="#20c040"/>
<rect x="123.84" y="477.56" width="36.78" height="1.03" fill="#f0a050"/>
<rect x="160.62" y="477.56" width="91.94" height="1.03" fill="#f0f0e0"/>
<rect x="252.56" y="477.56" width="91.94" height="1.03" fill="#f0f0d0"/>
<rect x="31.9" y="478.59" width="18.39" height="1.03" fill="#f0e020"/>
<rect x="50.29" y="478.59" width="45.97" height="1.03" fill="#30b0b0"/>
<rect x="96.26" y="478.59" width="64.36" height="1.03" fill="#fa1a78"/>
<rect x="160.62" y="478.59" width="55.17" height="1.03" fill="#6040c0"/>
<rect x="215.78" y="478.59" width="36.78" height="1.03" fill="#40c0e0"/>
<rect x="252.56" y="478.59" width="9.19" height="1.03" fill="#204080"/>
<rect x="261.76" y="478.59" width="82.75" height="1.03" fill="#f8f0e0"/>
<rect x="344.5" y="478.59" width="27.58" height="1.03" fill="#c0f060"/>
<rect x="31.9" y="479.62" width="9.19" height="1.03" fill="#20c040"/>
<rect x="41.09" y="479.62" width="18.39" height="1.03" fill="#a04030"/>
<rect x="59.48" y="479.62" width="36.78" height="1.03" fill="#fa1a78"/>
<rect x="96.26" y="479.62" width="27.58" height="1.03" fill="#e03020"/>
<rect x="123.84" y="479.62" width="18.39" height="1.03" fill="#30c030"/>
<rect x="142.23" y="479.62" width="18.39" height="1.03" fill="#a0a040"/>
<rect x="160.62" y="479.62" width="55.17" height="1.03" fill="#6040c0"/>
<rect x="215.78" y="479.62" width="36.78" height="1.03" fill="#40c0e0"/>
<rect x="252.56" y="479.62" width="91.94" height="1.03" fill="#f0c080"/>
<rect x="344.5" y="479.62" width="27.58" height="1.03" fill="#c0f060"/>
<rect x="31.9" y="480.64" width="9.19" height="1.03" fill="#f8d0e0"/>
<rect x="41.09" y="480.64" width="18.39" height="1.03" fill="#f060a0"/>
<rect x="59.48" y="480.64" width="36.78" height="1.03" fill="#e03030"/>
<rect x="96.26" y="480.64" width="18.39" height="1.03" fill="#20c040"/>
<rect x="114.65" y="480.64" width="18.39" height="1.03" fill="#3050d0"/>
<rect x="133.04" y="480.64" width="18.39" height="1.03" fill="#2040c0"/>
<rect x="151.42" y="480.64" width="9.19" height="1.03" fill="#f0d020"/>
<rect x="160.62" y="480.64" width="55.17" height="1.03" fill="#fa1a78"/>
<rect x="215.78" y="480.64" width="36.78" height="1.03" fill="#40a0a0"/>
<rect x="252.56" y="480.64" width="91.94" height="1.03" fill="#f0c080"/>
<rect x="31.9" y="481.67" width="9.19" height="1.03" fill="#20b0c0"/>
<rect x="41.09" y="481.67" width="18.39" height="1.03" fill="#30a080"/>
<rect x="59.48" y="481.67" width="36.78" height="1.03" fill="#e03020"/>
<rect x="96.26" y="481.67" width="27.58" height="1.03" fill="#fa1a78"/>
<rect x="123.84" y="481.67" width="18.39" height="1.03" fill="#30c050"/>
<rect x="142.23" y="481.67" width="73.55" height="1.03" fill="#fa1a78"/>
<rect x="215.78" y="481.67" width="36.78" height="1.03" fill="#f0d0d0"/>
<rect x="252.56" y="481.67" width="91.94" height="1.03" fill="#40c0e0"/>
<rect x="344.5" y="481.67" width="36.78" height="1.03" fill="#40b0f0"/>
<rect x="31.9" y="482.7" width="9.19" height="1.03" fill="#c0e040"/>
<rect x="41.09" y="482.7" width="18.39" height="1.03" fill="#6040c0"/>
<rect x="59.48" y="482.7" width="36.78" height="1.03" fill="#20c040"/>
<rect x="96.26" y="482.7" width="119.53" height="1.03" fill="#e02020"/>
<rect x="215.78" y="482.7" width="36.78" height="1.03" fill="#f0f0f0"/>
<rect x="252.56" y="482.7" width="91.94" height="1.03" fill="#40c0e0"/>
<rect x="344.5" y="482.7" width="36.78" height="1.03" fill="#40b0f0"/>
<rect x="31.9" y="483.73" width="128.72" height="1.03" fill="#8035c0"/>
<rect x="160.62" y="483.73" width="55.17" height="1.03" fill="#e02020"/>
<rect x="252.56" y="483.73" width="27.58" height="1.03" fill="#60e040"/>
<rect x="280.14" y="483.73" width="64.36" height="1.03" fill="#a0d0e0"/>
<rect x="344.5" y="483.73" width="9.19" height="1.03" fill="#709040"/>
<rect x="31.9" y="484.76" width="27.58" height="1.03" fill="#40d040"/>
<rect x="59.48" y="484.76" width="36.78" height="1.03" fill="#c040a0"/>
<rect x="96.26" y="484.76" width="82.75" height="1.03" fill="#40e040"/>
<rect x="179.01" y="484.76" width="36.78" height="1.03" fill="#f08040"/>
<rect x="215.78" y="484.76" width="64.36" height="1.03" fill="#60e040"/>
<rect x="280.14" y="484.76" width="64.36" height="1.03" fill="#a0d0e0"/>
<rect x="31.9" y="485.78" width="64.36" height="1.03" fill="#40e040"/>
<rect x="96.26" y="485.78" width="64.36" height="1.03" fill="#40c0e0"/>
<rect x="160.62" y="485.78" width="55.17" height="1.03" fill="#40e040"/>
<rect x="215.78" y="485.78" width="36.78" height="1.03" fill="#a0d0f0"/>
</g>
<path d="M37.3 488.5H515.4" stroke="#000" stroke-width="1" fill="none"/>
<path d="M37.3 488.5v4M74.08 488.5v4M110.85 488.5v4M147.63 488.5v4M184.41 488.5v4M221.18 488.5v4M257.96 488.5v4M294.74 488.5v4M331.52 488.5v4M368.29 488.5v4M405.07 488.5v4M441.85 488.5v4M478.62 488.5v4M515.4 488.5v4" stroke="#000" stroke-width="1" fill="none"/>
<text x="37.3" y="502.8" font-size="7.35" font-weight="bold" style="stroke-width:0" text-anchor="middle">1</text>
<text x="74.08" y="502.8" font-size="7.35" font-weight="bold" style="stroke-width:0" text-anchor="middle">5</text>
<text x="110.85" y="502.8" font-size="7.35" font-weight="bold" style="stroke-width:0" text-anchor="middle">9</text>
<text x="147.63" y="502.8" font-size="7.35" font-weight="bold" style="stroke-width:0" text-anchor="middle">13</text>
<text x="184.41" y="502.8" font-size="7.35" font-weight="bold" style="stroke-width:0" text-anchor="middle">17</text>
<text x="221.18" y="502.8" font-size="7.35" font-weight="bold" style="stroke-width:0" text-anchor="middle">21</text>
<text x="257.96" y="502.8" font-size="7.35" font-weight="bold" style="stroke-width:0" text-anchor="middle">25</text>
<text x="294.74" y="502.8" font-size="7.35" font-weight="bold" style="stroke-width:0" text-anchor="middle">29</text>
<text x="331.52" y="502.8" font-size="7.35" font-weight="bold" style="stroke-width:0" text-anchor="middle">33</text>
<text x="368.29" y="502.8" font-size="7.35" font-weight="bold" style="stroke-width:0" text-anchor="middle">37</text>
<text x="405.07" y="502.8" font-size="7.35" font-weight="bold" style="stroke-width:0" text-anchor="middle">41</text>
<text x="441.85" y="502.8" font-size="7.35" font-weight="bold" style="stroke-width:0" text-anchor="middle">45</text>
<text x="478.62" y="502.8" font-size="7.35" font-weight="bold" style="stroke-width:0" text-anchor="middle">49</text>
<text x="515.4" y="502.8" font-size="7.35" font-weight="bold" style="stroke-width:0" text-anchor="middle">53</text>
<text x="288.9" y="444.4" font-size="8.28" font-weight="bold" style="stroke-width:0.1px" text-anchor="middle">6. Public employment career</text>
<text transform="translate(8.2 471.8) rotate(-90)" font-size="8" text-anchor="middle" textLength="66.4" lengthAdjust="spacingAndGlyphs">67 seq. (n=67), sorted</text>
<text transform="translate(27.3 486.9) rotate(-90)" font-size="7.9" style="stroke-width:0.2px" text-anchor="middle">1</text>
<text transform="translate(27.3 475.5) rotate(-90)" font-size="7.9" style="stroke-width:0.2px" text-anchor="middle">25</text>
<text transform="translate(27.3 463.3) rotate(-90)" font-size="7.9" style="stroke-width:0.2px" text-anchor="middle">53</text>
<g>
<rect x="31.9" y="537.9" width="193.08" height="1.03" fill="#0a1a70"/>
<rect x="224.98" y="537.9" width="55.17" height="1.03" fill="#a0b0d0"/>
<rect x="280.14" y="537.9" width="9.19" height="1.03" fill="#c0c8e0"/>
<rect x="31.9" y="538.93" width="36.78" height="1.03" fill="#1070c0"/>
<rect x="68.68" y="538.93" width="285.02" height="1.03" fill="#10488c"/>
<rect x="353.7" y="538.93" width="9.19" height="1.03" fill="#a0b0d0"/>
<rect x="31.9" y="539.96" width="9.19" height="1.03" fill="#e0f0f8"/>
<rect x="41.09" y="539.96" width="9.19" height="1.03" fill="#2080d0"/>
<rect x="50.29" y="539.96" width="9.19" height="1.03" fill="#a0c0e0"/>
<rect x="59.48" y="539.96" width="18.39" height="1.03" fill="#1090e0"/>
<rect x="77.87" y="539.96" width="330.99" height="1.03" fill="#10488c"/>
<rect x="31.9" y="540.99" width="64.36" height="1.03" fill="#0a70c0"/>
<rect x="96.26" y="540.99" width="312.6" height="1.03" fill="#10488c"/>
<rect x="31.9" y="542.02" width="9.19" height="1.03" fill="#6060c0"/>
<rect x="41.09" y="542.02" width="82.75" height="1.03" fill="#1070d0"/>
<rect x="123.84" y="542.02" width="165.5" height="1.03" fill="#10488c"/>
<rect x="289.34" y="542.02" width="45.97" height="1.03" fill="#c0d0f0"/>
<rect x="31.9" y="543.05" width="80.91" height="1.03" fill="#1070d0"/>
<rect x="112.81" y="543.05" width="176.53" height="1.03" fill="#10488c"/>
<rect x="289.34" y="543.05" width="45.97" height="1.03" fill="#c0d0f0"/>
<rect x="31.9" y="544.09" width="27.58" height="1.03" fill="#20c040"/>
<rect x="59.48" y="544.09" width="36.78" height="1.03" fill="#1080d0"/>
<rect x="96.26" y="544.09" width="317.2" height="1.03" fill="#10488c"/>
<rect x="31.9" y="545.12" width="64.36" height="1.03" fill="#0060b0"/>
<rect x="96.26" y="545.12" width="298.81" height="1.03" fill="#10488c"/>
<rect x="395.07" y="545.12" width="22.99" height="1.03" fill="#8090c0"/>
<rect x="31.9" y="546.15" width="9.19" height="1.03" fill="#f0a040"/>
<rect x="41.09" y="546.15" width="9.19" height="1.03" fill="#80c0f0"/>
<rect x="50.29" y="546.15" width="45.97" height="1.03" fill="#1070d0"/>
<rect x="96.26" y="546.15" width="27.58" height="1.03" fill="#10a0f0"/>
<rect x="123.84" y="546.15" width="22.99" height="1.03" fill="#1070d0"/>
<rect x="146.83" y="546.15" width="114.93" height="1.03" fill="#10488c"/>
<rect x="261.76" y="546.15" width="55.17" height="1.03" fill="#a0b0e0"/>
<rect x="316.92" y="546.15" width="45.97" height="1.03" fill="#10488c"/>
<rect x="362.89" y="546.15" width="36.78" height="1.03" fill="#a0c0e0"/>
<rect x="399.67" y="546.15" width="45.97" height="1.03" fill="#40c0f0"/>
<rect x="31.9" y="547.18" width="18.39" height="1.03" fill="#1070d0"/>
<rect x="50.29" y="547.18" width="18.39" height="1.03" fill="#f0d030"/>
<rect x="68.68" y="547.18" width="9.19" height="1.03" fill="#80d0f0"/>
<rect x="77.87" y="547.18" width="9.19" height="1.03" fill="#a0e0f0"/>
<rect x="87.07" y="547.18" width="9.19" height="1.03" fill="#20c0f0"/>
<rect x="96.26" y="547.18" width="110.33" height="1.03" fill="#1070d0"/>
<rect x="206.59" y="547.18" width="36.78" height="1.03" fill="#1080e0"/>
<rect x="243.37" y="547.18" width="73.55" height="1.03" fill="#10488c"/>
<rect x="316.92" y="547.18" width="45.97" height="1.03" fill="#a0c8f0"/>
<rect x="362.89" y="547.18" width="73.55" height="1.03" fill="#103080"/>
<rect x="31.9" y="548.21" width="18.39" height="1.03" fill="#c08040"/>
<rect x="50.29" y="548.21" width="137.91" height="1.03" fill="#10488c"/>
<rect x="188.2" y="548.21" width="9.19" height="1.03" fill="#e02020"/>
<rect x="197.4" y="548.21" width="18.39" height="1.03" fill="#10488c"/>
<rect x="215.78" y="548.21" width="34.02" height="1.03" fill="#e02020"/>
<rect x="249.8" y="548.21" width="67.12" height="1.03" fill="#10488c"/>
<rect x="316.92" y="548.21" width="18.39" height="1.03" fill="#d0e0f0"/>
<rect x="335.31" y="548.21" width="27.58" height="1.03" fill="#a0c8f0"/>
<rect x="31.9" y="549.24" width="64.36" height="1.03" fill="#10488c"/>
<rect x="96.26" y="549.24" width="18.39" height="1.03" fill="#c0a0a0"/>
<rect x="114.65" y="549.24" width="45.97" height="1.03" fill="#1070d0"/>
<rect x="160.62" y="549.24" width="18.39" height="1.03" fill="#40a0e0"/>
<rect x="179.01" y="549.24" width="36.78" height="1.03" fill="#10488c"/>
<rect x="215.78" y="549.24" width="34.02" height="1.03" fill="#e02020"/>
<rect x="249.8" y="549.24" width="9.19" height="1.03" fill="#10488c"/>
<rect x="259" y="549.24" width="57.92" height="1.03" fill="#e8eef8"/>
<rect x="316.92" y="549.24" width="64.36" height="1.03" fill="#f08060"/>
<rect x="31.9" y="550.27" width="18.39" height="1.03" fill="#f0f0f0"/>
<rect x="50.29" y="550.27" width="45.97" height="1.03" fill="#1070d0"/>
<rect x="96.26" y="550.27" width="128.72" height="1.03" fill="#10488c"/>
<rect x="224.98" y="550.27" width="27.58" height="1.03" fill="#80c0f0"/>
<rect x="252.56" y="550.27" width="36.78" height="1.03" fill="#d0d0e0"/>
<rect x="289.34" y="550.27" width="27.58" height="1.03" fill="#10488c"/>
<rect x="316.92" y="550.27" width="18.39" height="1.03" fill="#f08060"/>
<rect x="31.9" y="551.3" width="45.97" height="1.03" fill="#c0e020"/>
<rect x="77.87" y="551.3" width="18.39" height="1.03" fill="#a0a0c0"/>
<rect x="96.26" y="551.3" width="91.94" height="1.03" fill="#10488c"/>
<rect x="188.2" y="551.3" width="9.19" height="1.03" fill="#d04040"/>
<rect x="197.4" y="551.3" width="55.17" height="1.03" fill="#80c0f0"/>
<rect x="252.56" y="551.3" width="18.39" height="1.03" fill="#d0d0e0"/>
<rect x="270.95" y="551.3" width="73.55" height="1.03" fill="#1a70d0"/>
<rect x="31.9" y="552.33" width="101.14" height="1.03" fill="#1080e0"/>
<rect x="133.04" y="552.33" width="137.91" height="1.03" fill="#10488c"/>
<rect x="270.95" y="552.33" width="73.55" height="1.03" fill="#1a70d0"/>
<rect x="344.5" y="552.33" width="36.78" height="1.03" fill="#2060c0"/>
<rect x="381.28" y="552.33" width="73.55" height="1.03" fill="#c04020"/>
<rect x="31.9" y="553.37" width="9.19" height="1.03" fill="#e02060"/>
<rect x="41.09" y="553.37" width="27.58" height="1.03" fill="#1a80e0"/>
<rect x="68.68" y="553.37" width="9.19" height="1.03" fill="#80c0f0"/>
<rect x="77.87" y="553.37" width="55.17" height="1.03" fill="#1080e0"/>
<rect x="133.04" y="553.37" width="73.55" height="1.03" fill="#1070d0"/>
<rect x="206.59" y="553.37" width="101.14" height="1.03" fill="#10488c"/>
<rect x="307.73" y="553.37" width="27.58" height="1.03" fill="#a0b0e0"/>
<rect x="335.31" y="553.37" width="50.57" height="1.03" fill="#6090e0"/>
<rect x="385.88" y="553.37" width="68.96" height="1.03" fill="#1a1a50"/>
<rect x="454.83" y="553.37" width="18.39" height="1.03" fill="#1060d0"/>
<rect x="31.9" y="554.4" width="18.39" height="1.03" fill="#1070d0"/>
<rect x="50.29" y="554.4" width="18.39" height="1.03" fill="#c0e0f0"/>
<rect x="68.68" y="554.4" width="9.19" height="1.03" fill="#e0a0a0"/>
<rect x="77.87" y="554.4" width="55.17" height="1.03" fill="#1080e0"/>
<rect x="133.04" y="554.4" width="174.69" height="1.03" fill="#10488c"/>
<rect x="307.73" y="554.4" width="27.58" height="1.03" fill="#a0b0e0"/>
<rect x="31.9" y="555.43" width="64.36" height="1.03" fill="#2070d0"/>
<rect x="96.26" y="555.43" width="36.78" height="1.03" fill="#1080e0"/>
<rect x="133.04" y="555.43" width="174.69" height="1.03" fill="#10488c"/>
<rect x="307.73" y="555.43" width="73.55" height="1.03" fill="#c0d0f0"/>
<rect x="31.9" y="556.46" width="9.19" height="1.03" fill="#9090e0"/>
<rect x="41.09" y="556.46" width="18.39" height="1.03" fill="#8070c0"/>
<rect x="59.48" y="556.46" width="137.91" height="1.03" fill="#1070d0"/>
<rect x="197.4" y="556.46" width="18.39" height="1.03" fill="#e050c0"/>
<rect x="215.78" y="556.46" width="43.21" height="1.03" fill="#10488c"/>
<rect x="259" y="556.46" width="30.34" height="1.03" fill="#6080c0"/>
<rect x="289.34" y="556.46" width="64.36" height="1.03" fill="#e05040"/>
<rect x="31.9" y="557.49" width="27.58" height="1.03" fill="#a0a0e0"/>
<rect x="59.48" y="557.49" width="110.33" height="1.03" fill="#1a7ae0"/>
<rect x="169.81" y="557.49" width="9.19" height="1.03" fill="#e0e0f0"/>
<rect x="179.01" y="557.49" width="36.78" height="1.03" fill="#1070d0"/>
<rect x="215.78" y="557.49" width="43.21" height="1.03" fill="#d0d0f0"/>
<rect x="259" y="557.49" width="39.54" height="1.03" fill="#807040"/>
<rect x="298.53" y="557.49" width="9.19" height="1.03" fill="#80a0e0"/>
<rect x="326.12" y="557.49" width="55.17" height="1.03" fill="#80a0e0"/>
<rect x="31.9" y="558.52" width="9.19" height="1.03" fill="#20e040"/>
<rect x="41.09" y="558.52" width="55.17" height="1.03" fill="#c0f040"/>
<rect x="96.26" y="558.52" width="119.53" height="1.03" fill="#10488c"/>
<rect x="215.78" y="558.52" width="73.55" height="1.03" fill="#d0d0f0"/>
<rect x="31.9" y="559.55" width="9.19" height="1.03" fill="#20e040"/>
<rect x="41.09" y="559.55" width="55.17" height="1.03" fill="#1a7ae0"/>
<rect x="96.26" y="559.55" width="9.19" height="1.03" fill="#c0e040"/>
<rect x="105.45" y="559.55" width="27.58" height="1.03" fill="#f0f0f0"/>
<rect x="133.04" y="559.55" width="119.52" height="1.03" fill="#10488c"/>
<rect x="252.56" y="559.55" width="36.78" height="1.03" fill="#e0e8f4"/>
<rect x="31.9" y="560.58" width="18.39" height="1.03" fill="#f0f0f0"/>
<rect x="50.29" y="560.58" width="27.58" height="1.03" fill="#20d030"/>
<rect x="77.87" y="560.58" width="18.39" height="1.03" fill="#1070d0"/>
<rect x="96.26" y="560.58" width="9.19" height="1.03" fill="#f0f0f0"/>
<rect x="105.45" y="560.58" width="18.39" height="1.03" fill="#f0e040"/>
<rect x="123.84" y="560.58" width="55.17" height="1.03" fill="#e0e0f0"/>
<rect x="179.01" y="560.58" width="36.78" height="1.03" fill="#1070d0"/>
<rect x="215.78" y="560.58" width="73.55" height="1.03" fill="#a0a0b0"/>
<rect x="31.9" y="561.61" width="9.19" height="1.03" fill="#402010"/>
<rect x="41.09" y="561.61" width="9.19" height="1.03" fill="#e02020"/>
<rect x="50.29" y="561.61" width="36.78" height="1.03" fill="#20c040"/>
<rect x="87.07" y="561.61" width="9.19" height="1.03" fill="#e05030"/>
<rect x="96.26" y="561.61" width="9.19" height="1.03" fill="#e02020"/>
<rect x="105.45" y="561.61" width="18.39" height="1.03" fill="#f0e040"/>
<rect x="123.84" y="561.61" width="55.17" height="1.03" fill="#e0e0f0"/>
<rect x="179.01" y="561.61" width="36.78" height="1.03" fill="#f0f0f0"/>
<rect x="215.78" y="561.61" width="27.58" height="1.03" fill="#d0f040"/>
<rect x="243.37" y="561.61" width="13.79" height="1.03" fill="#f0a0b0"/>
<rect x="31.9" y="562.64" width="9.19" height="1.03" fill="#301008"/>
<rect x="41.09" y="562.64" width="9.19" height="1.03" fill="#e01010"/>
<rect x="50.29" y="562.64" width="45.97" height="1.03" fill="#10488c"/>
<rect x="96.26" y="562.64" width="156.3" height="1.03" fill="#1070d0"/>
<rect x="31.9" y="563.67" width="64.36" height="1.03" fill="#2080e0"/>
<rect x="96.26" y="563.67" width="156.3" height="1.03" fill="#10488c"/>
<rect x="31.9" y="564.71" width="18.39" height="1.03" fill="#e02040"/>
<rect x="50.29" y="564.71" width="18.39" height="1.03" fill="#c080d0"/>
<rect x="68.68" y="564.71" width="18.39" height="1.03" fill="#6040a0"/>
<rect x="87.07" y="564.71" width="91.94" height="1.03" fill="#1070d0"/>
<rect x="179.01" y="564.71" width="91.94" height="1.03" fill="#20a0f0"/>
<rect x="270.95" y="564.71" width="18.39" height="1.03" fill="#40c0f0"/>
<rect x="289.34" y="564.71" width="18.39" height="1.03" fill="#f04050"/>
<rect x="31.9" y="565.74" width="18.39" height="1.03" fill="#c01040"/>
<rect x="50.29" y="565.74" width="45.97" height="1.03" fill="#1060d0"/>
<rect x="96.26" y="565.74" width="82.75" height="1.03" fill="#20a0f0"/>
<rect x="179.01" y="565.74" width="9.19" height="1.03" fill="#40c0f0"/>
<rect x="188.2" y="565.74" width="82.75" height="1.03" fill="#1070d0"/>
<rect x="270.95" y="565.74" width="9.19" height="1.03" fill="#f09040"/>
<rect x="31.9" y="566.77" width="147.11" height="1.03" fill="#40c8f0"/>
</g>
<path d="M37.3 569.5H515.4" stroke="#000" stroke-width="1" fill="none"/>
<path d="M37.3 569.5v4M74.08 569.5v4M110.85 569.5v4M147.63 569.5v4M184.41 569.5v4M221.18 569.5v4M257.96 569.5v4M294.74 569.5v4M331.52 569.5v4M368.29 569.5v4M405.07 569.5v4M441.85 569.5v4M478.62 569.5v4M515.4 569.5v4" stroke="#000" stroke-width="1" fill="none"/>
<text x="37.3" y="584" font-size="7.35" font-weight="bold" style="stroke-width:0" text-anchor="middle">1</text>
<text x="74.08" y="584" font-size="7.35" font-weight="bold" style="stroke-width:0" text-anchor="middle">5</text>
<text x="110.85" y="584" font-size="7.35" font-weight="bold" style="stroke-width:0" text-anchor="middle">9</text>
<text x="147.63" y="584" font-size="7.35" font-weight="bold" style="stroke-width:0" text-anchor="middle">13</text>
<text x="184.41" y="584" font-size="7.35" font-weight="bold" style="stroke-width:0" text-anchor="middle">17</text>
<text x="221.18" y="584" font-size="7.35" font-weight="bold" style="stroke-width:0" text-anchor="middle">21</text>
<text x="257.96" y="584" font-size="7.35" font-weight="bold" style="stroke-width:0" text-anchor="middle">25</text>
<text x="294.74" y="584" font-size="7.35" font-weight="bold" style="stroke-width:0" text-anchor="middle">29</text>
<text x="331.52" y="584" font-size="7.35" font-weight="bold" style="stroke-width:0" text-anchor="middle">33</text>
<text x="368.29" y="584" font-size="7.35" font-weight="bold" style="stroke-width:0" text-anchor="middle">37</text>
<text x="405.07" y="584" font-size="7.35" font-weight="bold" style="stroke-width:0" text-anchor="middle">41</text>
<text x="441.85" y="584" font-size="7.35" font-weight="bold" style="stroke-width:0" text-anchor="middle">45</text>
<text x="478.62" y="584" font-size="7.35" font-weight="bold" style="stroke-width:0" text-anchor="middle">49</text>
<text x="515.4" y="584" font-size="7.35" font-weight="bold" style="stroke-width:0" text-anchor="middle">53</text>
<text x="289.2" y="524.4" font-size="8.0" font-weight="bold" style="stroke-width:0.1px" text-anchor="middle">7. Business CEO career</text>
<text transform="translate(8.2 553) rotate(-90)" font-size="8" text-anchor="middle" textLength="66" lengthAdjust="spacingAndGlyphs">42 seq. (n=42), sorted</text>
<text transform="translate(27.3 567.9) rotate(-90)" font-size="7.9" style="stroke-width:0.2px" text-anchor="middle">1</text>
<text transform="translate(27.3 556.4) rotate(-90)" font-size="7.9" style="stroke-width:0.2px" text-anchor="middle">16</text>
<text transform="translate(27.3 544.4) rotate(-90)" font-size="7.9" style="stroke-width:0.2px" text-anchor="middle">34</text>
<g>
<rect x="31.9" y="619.2" width="156.3" height="1.02" fill="#00ff00"/>
<rect x="188.2" y="619.2" width="18.39" height="1.02" fill="#e0b0c0"/>
<rect x="206.59" y="619.2" width="36.78" height="1.02" fill="#605020"/>
<rect x="243.37" y="619.2" width="9.19" height="1.02" fill="#80a040"/>
<rect x="31.9" y="620.22" width="137.91" height="1.02" fill="#00ff00"/>
<rect x="169.81" y="620.22" width="9.19" height="1.02" fill="#806020"/>
<rect x="179.01" y="620.22" width="27.58" height="1.02" fill="#00ff00"/>
<rect x="31.9" y="621.24" width="183.88" height="1.02" fill="#00ff00"/>
<rect x="215.78" y="621.24" width="27.58" height="1.02" fill="#d0c0d0"/>
<rect x="243.37" y="621.24" width="27.58" height="1.02" fill="#a0b060"/>
<rect x="31.9" y="622.26" width="147.11" height="1.02" fill="#00ff00"/>
<rect x="179.01" y="622.26" width="9.19" height="1.02" fill="#c0f0c0"/>
<rect x="188.2" y="622.26" width="18.39" height="1.02" fill="#00ff00"/>
<rect x="31.9" y="623.28" width="18.39" height="1.02" fill="#d0f080"/>
<rect x="50.29" y="623.28" width="82.75" height="1.02" fill="#00ff00"/>
<rect x="133.04" y="623.28" width="9.19" height="1.02" fill="#20a0a0"/>
<rect x="142.23" y="623.28" width="64.36" height="1.02" fill="#00ff00"/>
<rect x="206.59" y="623.28" width="18.39" height="1.02" fill="#d03030"/>
<rect x="224.98" y="623.28" width="55.17" height="1.02" fill="#c0d0a0"/>
<rect x="31.9" y="624.3" width="193.08" height="1.02" fill="#00ff00"/>
<rect x="224.98" y="624.3" width="55.17" height="1.02" fill="#c0d0a0"/>
<rect x="31.9" y="625.32" width="91.94" height="1.02" fill="#00ff00"/>
<rect x="123.84" y="625.32" width="9.19" height="1.02" fill="#808020"/>
<rect x="133.04" y="625.32" width="36.78" height="1.02" fill="#00ff00"/>
<rect x="169.81" y="625.32" width="9.19" height="1.02" fill="#806040"/>
<rect x="179.01" y="625.32" width="101.14" height="1.02" fill="#00ff00"/>
<rect x="31.9" y="626.34" width="101.14" height="1.02" fill="#00ff00"/>
<rect x="133.04" y="626.34" width="36.78" height="1.02" fill="#e0f0e0"/>
<rect x="169.81" y="626.34" width="110.33" height="1.02" fill="#00ff00"/>
<rect x="31.9" y="627.36" width="211.47" height="1.02" fill="#00ff00"/>
<rect x="243.37" y="627.36" width="55.17" height="1.02" fill="#208020"/>
<rect x="31.9" y="628.38" width="261.12" height="1.02" fill="#00ff00"/>
<rect x="293.02" y="628.38" width="5.52" height="1.02" fill="#208020"/>
<rect x="298.53" y="628.38" width="36.78" height="1.02" fill="#d0f060"/>
<rect x="31.9" y="629.4" width="110.33" height="1.02" fill="#00ff00"/>
<rect x="142.23" y="629.4" width="45.97" height="1.02" fill="#f0f0f0"/>
<rect x="188.2" y="629.4" width="18.39" height="1.02" fill="#208020"/>
<rect x="206.59" y="629.4" width="64.36" height="1.02" fill="#20e020"/>
<rect x="270.95" y="629.4" width="18.39" height="1.02" fill="#406020"/>
<rect x="31.9" y="630.42" width="239.05" height="1.02" fill="#00ff00"/>
<rect x="270.95" y="630.42" width="18.39" height="1.02" fill="#406020"/>
<rect x="289.34" y="630.42" width="91.94" height="1.02" fill="#90a070"/>
<rect x="31.9" y="631.44" width="18.39" height="1.02" fill="#20a0c0"/>
<rect x="50.29" y="631.44" width="156.3" height="1.02" fill="#00ff00"/>
<rect x="206.59" y="631.44" width="18.39" height="1.02" fill="#f0c0e0"/>
<rect x="224.98" y="631.44" width="27.58" height="1.02" fill="#d0d0f0"/>
<rect x="252.56" y="631.44" width="27.58" height="1.02" fill="#f0d0e0"/>
<rect x="280.14" y="631.44" width="18.39" height="1.02" fill="#f08040"/>
<rect x="31.9" y="632.46" width="64.36" height="1.02" fill="#00ff00"/>
<rect x="96.26" y="632.46" width="9.19" height="1.02" fill="#20a0d0"/>
<rect x="105.45" y="632.46" width="36.78" height="1.02" fill="#00ff00"/>
<rect x="142.23" y="632.46" width="64.36" height="1.02" fill="#404020"/>
<rect x="206.59" y="632.46" width="82.75" height="1.02" fill="#00ff00"/>
<rect x="31.9" y="633.48" width="9.19" height="1.02" fill="#e09020"/>
<rect x="41.09" y="633.48" width="18.39" height="1.02" fill="#80c040"/>
<rect x="59.48" y="633.48" width="82.75" height="1.02" fill="#00ff00"/>
<rect x="142.23" y="633.48" width="64.36" height="1.02" fill="#e0f8e0"/>
<rect x="206.59" y="633.48" width="82.75" height="1.02" fill="#00ff00"/>
<rect x="289.34" y="633.48" width="18.39" height="1.02" fill="#f08040"/>
<rect x="31.9" y="634.5" width="257.44" height="1.02" fill="#00ff00"/>
<rect x="289.34" y="634.5" width="9.19" height="1.02" fill="#20e020"/>
<rect x="31.9" y="635.52" width="9.19" height="1.02" fill="#20b0b0"/>
<rect x="41.09" y="635.52" width="9.19" height="1.02" fill="#d0f080"/>
<rect x="50.29" y="635.52" width="9.19" height="1.02" fill="#00ff00"/>
<rect x="59.48" y="635.52" width="9.19" height="1.02" fill="#c0f0a0"/>
<rect x="68.68" y="635.52" width="48.73" height="1.02" fill="#00ff00"/>
<rect x="117.41" y="635.52" width="6.44" height="1.02" fill="#c08020"/>
<rect x="123.84" y="635.52" width="91.94" height="1.02" fill="#00ff00"/>
<rect x="215.78" y="635.52" width="18.39" height="1.02" fill="#e06020"/>
<rect x="234.17" y="635.52" width="18.39" height="1.02" fill="#a0a040"/>
<rect x="252.56" y="635.52" width="13.79" height="1.02" fill="#e04030"/>
<rect x="266.35" y="635.52" width="4.6" height="1.02" fill="#206020"/>
<rect x="270.95" y="635.52" width="13.79" height="1.02" fill="#f08020"/>
<rect x="31.9" y="636.54" width="248.24" height="1.02" fill="#00ff00"/>
<rect x="31.9" y="637.56" width="9.19" height="1.02" fill="#c0a020"/>
<rect x="41.09" y="637.56" width="239.05" height="1.02" fill="#00ff00"/>
<rect x="31.9" y="638.58" width="73.55" height="1.02" fill="#00ff00"/>
<rect x="105.45" y="638.58" width="9.19" height="1.02" fill="#e09020"/>
<rect x="114.65" y="638.58" width="18.39" height="1.02" fill="#00ff00"/>
<rect x="133.04" y="638.58" width="9.19" height="1.02" fill="#806020"/>
<rect x="142.23" y="638.58" width="64.36" height="1.02" fill="#f0d0d0"/>
<rect x="206.59" y="638.58" width="82.75" height="1.02" fill="#00ff00"/>
<rect x="31.9" y="639.6" width="85.51" height="1.02" fill="#00ff00"/>
<rect x="117.41" y="639.6" width="6.44" height="1.02" fill="#e08020"/>
<rect x="123.84" y="639.6" width="165.5" height="1.02" fill="#00ff00"/>
<rect x="289.34" y="639.6" width="27.58" height="1.02" fill="#20e020"/>
<rect x="316.92" y="639.6" width="9.19" height="1.02" fill="#805040"/>
<rect x="326.12" y="639.6" width="9.19" height="1.02" fill="#506030"/>
<rect x="335.31" y="639.6" width="18.39" height="1.02" fill="#90a060"/>
<rect x="353.7" y="639.6" width="27.58" height="1.02" fill="#40f040"/>
<rect x="31.9" y="640.62" width="27.58" height="1.02" fill="#d02060"/>
<rect x="59.48" y="640.62" width="18.39" height="1.02" fill="#a04060"/>
<rect x="77.87" y="640.62" width="128.72" height="1.02" fill="#00ff00"/>
<rect x="206.59" y="640.62" width="82.75" height="1.02" fill="#406020"/>
<rect x="31.9" y="641.64" width="257.44" height="1.02" fill="#00ff00"/>
<rect x="31.9" y="642.66" width="55.17" height="1.02" fill="#f0f8f0"/>
<rect x="87.07" y="642.66" width="9.19" height="1.02" fill="#e0f0c0"/>
<rect x="96.26" y="642.66" width="18.39" height="1.02" fill="#80b040"/>
<rect x="114.65" y="642.66" width="27.58" height="1.02" fill="#00ff00"/>
<rect x="142.23" y="642.66" width="41.37" height="1.02" fill="#2040d0"/>
<rect x="183.6" y="642.66" width="87.35" height="1.02" fill="#00ff00"/>
<rect x="31.9" y="643.68" width="27.58" height="1.02" fill="#00ff00"/>
<rect x="59.48" y="643.68" width="18.39" height="1.02" fill="#d02060"/>
<rect x="77.87" y="643.68" width="193.08" height="1.02" fill="#00ff00"/>
<rect x="293.02" y="643.68" width="42.29" height="1.02" fill="#304020"/>
<rect x="335.31" y="643.68" width="36.78" height="1.02" fill="#709050"/>
<rect x="31.9" y="644.7" width="183.88" height="1.02" fill="#00ff00"/>
<rect x="215.78" y="644.7" width="64.36" height="1.02" fill="#a0a060"/>
<rect x="31.9" y="645.72" width="91.94" height="1.02" fill="#00ff00"/>
<rect x="123.84" y="645.72" width="45.97" height="1.02" fill="#c0f080"/>
<rect x="169.81" y="645.72" width="45.97" height="1.02" fill="#00ff00"/>
<rect x="215.78" y="645.72" width="45.97" height="1.02" fill="#804020"/>
<rect x="261.76" y="645.72" width="18.39" height="1.02" fill="#c0d0a0"/>
<rect x="31.9" y="646.74" width="36.78" height="1.02" fill="#00ff00"/>
<rect x="68.68" y="646.74" width="18.39" height="1.02" fill="#c08020"/>
<rect x="87.07" y="646.74" width="82.75" height="1.02" fill="#00ff00"/>
<rect x="169.81" y="646.74" width="9.19" height="1.02" fill="#e06020"/>
<rect x="179.01" y="646.74" width="9.19" height="1.02" fill="#f0a040"/>
<rect x="188.2" y="646.74" width="17.47" height="1.02" fill="#00ff00"/>
<rect x="205.67" y="646.74" width="5.52" height="1.02" fill="#f08040"/>
<rect x="211.19" y="646.74" width="50.57" height="1.02" fill="#804020"/>
<rect x="31.9" y="647.76" width="85.51" height="1.02" fill="#00ff00"/>
<rect x="117.41" y="647.76" width="34.02" height="1.02" fill="#00ff00"/>
<rect x="151.42" y="647.76" width="18.39" height="1.02" fill="#f0c090"/>
<rect x="169.81" y="647.76" width="18.39" height="1.02" fill="#f08040"/>
<rect x="188.2" y="647.76" width="18.39" height="1.02" fill="#f0c090"/>
<rect x="31.9" y="648.78" width="82.75" height="1.02" fill="#70a8d8"/>
<rect x="114.65" y="648.78" width="55.17" height="1.02" fill="#c0e0a0"/>
<rect x="169.81" y="648.78" width="18.39" height="1.02" fill="#f0a070"/>
<rect x="206.59" y="648.78" width="9.19" height="1.02" fill="#6090c0"/>
</g>
<path d="M37.3 650.5H515.4" stroke="#000" stroke-width="1" fill="none"/>
<path d="M37.3 650.5v4M74.08 650.5v4M110.85 650.5v4M147.63 650.5v4M184.41 650.5v4M221.18 650.5v4M257.96 650.5v4M294.74 650.5v4M331.52 650.5v4M368.29 650.5v4M405.07 650.5v4M441.85 650.5v4M478.62 650.5v4M515.4 650.5v4" stroke="#000" stroke-width="1" fill="none"/>
<text x="37.3" y="666" font-size="7.35" font-weight="bold" style="stroke-width:0" text-anchor="middle">1</text>
<text x="74.08" y="666" font-size="7.35" font-weight="bold" style="stroke-width:0" text-anchor="middle">5</text>
<text x="110.85" y="666" font-size="7.35" font-weight="bold" style="stroke-width:0" text-anchor="middle">9</text>
<text x="147.63" y="666" font-size="7.35" font-weight="bold" style="stroke-width:0" text-anchor="middle">13</text>
<text x="184.41" y="666" font-size="7.35" font-weight="bold" style="stroke-width:0" text-anchor="middle">17</text>
<text x="221.18" y="666" font-size="7.35" font-weight="bold" style="stroke-width:0" text-anchor="middle">21</text>
<text x="257.96" y="666" font-size="7.35" font-weight="bold" style="stroke-width:0" text-anchor="middle">25</text>
<text x="294.74" y="666" font-size="7.35" font-weight="bold" style="stroke-width:0" text-anchor="middle">29</text>
<text x="331.52" y="666" font-size="7.35" font-weight="bold" style="stroke-width:0" text-anchor="middle">33</text>
<text x="368.29" y="666" font-size="7.35" font-weight="bold" style="stroke-width:0" text-anchor="middle">37</text>
<text x="405.07" y="666" font-size="7.35" font-weight="bold" style="stroke-width:0" text-anchor="middle">41</text>
<text x="441.85" y="666" font-size="7.35" font-weight="bold" style="stroke-width:0" text-anchor="middle">45</text>
<text x="478.62" y="666" font-size="7.35" font-weight="bold" style="stroke-width:0" text-anchor="middle">49</text>
<text x="515.4" y="666" font-size="7.35" font-weight="bold" style="stroke-width:0" text-anchor="middle">53</text>
<text x="289.3" y="606.4" font-size="8.28" font-weight="bold" style="stroke-width:0.1px" text-anchor="middle">8. Central government career</text>
<text transform="translate(8.2 634.3) rotate(-90)" font-size="8" text-anchor="middle" textLength="66.7" lengthAdjust="spacingAndGlyphs">73 seq. (n=73), sorted</text>
<text transform="translate(27.3 649.7) rotate(-90)" font-size="7.9" style="stroke-width:0.2px" text-anchor="middle">1</text>
<text transform="translate(27.3 639) rotate(-90)" font-size="7.9" style="stroke-width:0.2px" text-anchor="middle">27</text>
<text transform="translate(27.3 626.7) rotate(-90)" font-size="7.9" style="stroke-width:0.2px" text-anchor="middle">57</text>
<rect x="172.5" y="680.5" width="219" height="231" fill="#fff" stroke="#000" stroke-width="1" shape-rendering="auto"/>
<rect x="181.5" y="689.4" width="6" height="5" fill="#ffffff" stroke="#000" stroke-width="1"/>
<text x="196.2" y="695.7" font-size="8.9">Missing</text>
<rect x="181.5" y="700.37" width="6" height="5" fill="#f7f3e8" stroke="#000" stroke-width="1"/>
<text x="196.2" y="706.67" font-size="8.9">Outside labour market</text>
<rect x="181.5" y="711.34" width="6" height="5" fill="#a39a87" stroke="#000" stroke-width="1"/>
<text x="196.2" y="717.64" font-size="8.9">Student</text>
<rect x="181.5" y="722.31" width="6" height="5" fill="#f0149a" stroke="#000" stroke-width="1"/>
<text x="196.2" y="728.61" font-size="8.9">Public employee</text>
<rect x="181.5" y="733.28" width="6" height="5" fill="#1591dc" stroke="#000" stroke-width="1"/>
<text x="196.2" y="739.58" font-size="8.9">Private employee</text>
<rect x="181.5" y="744.25" width="6" height="5" fill="#12c5f2" stroke="#000" stroke-width="1"/>
<text x="196.2" y="750.55" font-size="8.9">Self-employed</text>
<rect x="181.5" y="755.22" width="6" height="5" fill="#1e78e6" stroke="#000" stroke-width="1"/>
<text x="196.2" y="761.52" font-size="8.9">Chairman</text>
<rect x="181.5" y="766.19" width="6" height="5" fill="#1a4c9c" stroke="#000" stroke-width="1"/>
<text x="196.2" y="772.49" font-size="8.9">Business CEO</text>
<rect x="181.5" y="777.16" width="6" height="5" fill="#f0181c" stroke="#000" stroke-width="1"/>
<text x="196.2" y="783.46" font-size="8.9">Party employee</text>
<rect x="181.5" y="788.13" width="6" height="5" fill="#e8141e" stroke="#000" stroke-width="1"/>
<text x="196.2" y="794.43" font-size="8.9">Other elected office</text>
<rect x="181.5" y="799.1" width="6" height="5" fill="#dc1c2c" stroke="#000" stroke-width="1"/>
<text x="196.2" y="805.4" font-size="8.9">Member of Parliament</text>
<rect x="181.5" y="810.07" width="6" height="5" fill="#8c1418" stroke="#000" stroke-width="1"/>
<text x="196.2" y="816.37" font-size="8.9">Minister</text>
<rect x="181.5" y="821.04" width="6" height="5" fill="#6ef000" stroke="#000" stroke-width="1"/>
<text x="196.2" y="827.34" font-size="8.9">Employee, local administration</text>
<rect x="181.5" y="832.01" width="6" height="5" fill="#f2f28c" stroke="#000" stroke-width="1"/>
<text x="196.2" y="838.31" font-size="8.9">Employee, public institution</text>
<rect x="181.5" y="842.98" width="6" height="5" fill="#00f000" stroke="#000" stroke-width="1"/>
<text x="196.2" y="849.28" font-size="8.9">Employee, central or international administration</text>
<rect x="181.5" y="853.95" width="6" height="5" fill="#1e9a28" stroke="#000" stroke-width="1"/>
<text x="196.2" y="860.25" font-size="8.9">Chief Executive, local or regional administration</text>
<rect x="181.5" y="864.92" width="6" height="5" fill="#78a848" stroke="#000" stroke-width="1"/>
<text x="196.2" y="871.22" font-size="8.9">Chief Executive, central administration</text>
<rect x="181.5" y="875.89" width="6" height="5" fill="#f8800c" stroke="#000" stroke-width="1"/>
<text x="196.2" y="882.19" font-size="8.9">Employee, IO</text>
<rect x="181.5" y="886.86" width="6" height="5" fill="#f86008" stroke="#000" stroke-width="1"/>
<text x="196.2" y="893.16" font-size="8.9">CEO, IO</text>
<rect x="181.5" y="897.83" width="6" height="5" fill="#a0500c" stroke="#000" stroke-width="1"/>
<text x="196.2" y="904.13" font-size="8.9">Chairman, IO</text>
</svg></body></html>
